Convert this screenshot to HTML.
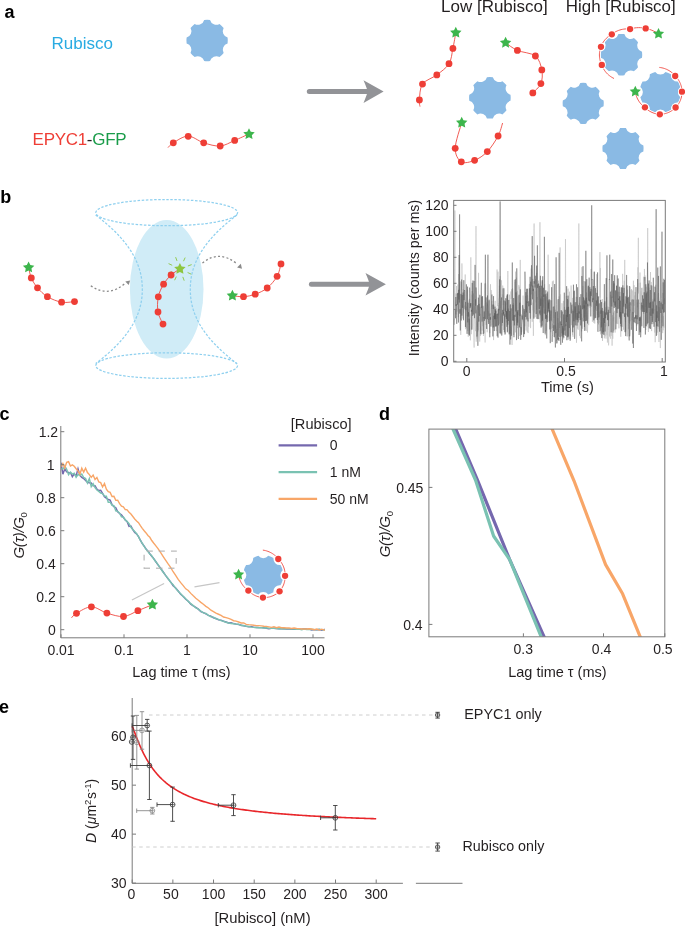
<!DOCTYPE html>
<html><head><meta charset="utf-8"><title>Figure</title>
<style>html,body{margin:0;padding:0;background:#fff;width:685px;height:926px;overflow:hidden}
svg{display:block;font-family:"Liberation Sans",sans-serif;will-change:transform}</style></head>
<body>
<svg width="685" height="926" viewBox="0 0 685 926" font-family="Liberation Sans, sans-serif"><text x="4.5" y="17.5" font-size="18" text-anchor="start" font-weight="bold" fill="#000" >a</text>
<text x="51.6" y="49.3" font-size="17" text-anchor="start" font-weight="normal" fill="#29abe2" >Rubisco</text>
<path d="M204.18 20.01A20.7 20.7 0 0 1 210.02 20.01A6.5 6.5 0 0 0 219.53 23.95A20.7 20.7 0 0 1 223.65 28.07A6.5 6.5 0 0 0 227.59 37.58A20.7 20.7 0 0 1 227.59 43.42A6.5 6.5 0 0 0 223.65 52.93A20.7 20.7 0 0 1 219.53 57.05A6.5 6.5 0 0 0 210.02 60.99A20.7 20.7 0 0 1 204.18 60.99A6.5 6.5 0 0 0 194.67 57.05A20.7 20.7 0 0 1 190.55 52.93A6.5 6.5 0 0 0 186.61 43.42A20.7 20.7 0 0 1 186.61 37.58A6.5 6.5 0 0 0 190.55 28.07A20.7 20.7 0 0 1 194.67 23.95A6.5 6.5 0 0 0 204.18 20.01Z" fill="#8abae4"/>
<text x="32.6" y="144.9" font-size="17" letter-spacing="-0.3"><tspan fill="#ee3e36">EPYC1</tspan><tspan fill="#231f20">-</tspan><tspan fill="#1a9c4a">GFP</tspan></text>
<path d="M168 147.6C168.88 146.8 169.95 144.72 173.3 142.8C176.65 140.88 183.03 136.1 188.1 136.1C193.17 136.1 198.35 141.15 203.7 142.8C209.05 144.45 215.03 146.4 220.2 146C225.37 145.6 229.93 142.4 234.7 140.4C239.47 138.4 246.45 135.07 248.8 134" fill="none" stroke="#ee3e36" stroke-width="0.85"/><circle cx="173.3" cy="142.8" r="3.4" fill="#ee3e36"/><circle cx="188.2" cy="136.3" r="3.4" fill="#ee3e36"/><circle cx="203.7" cy="142.8" r="3.4" fill="#ee3e36"/><circle cx="220.2" cy="146" r="3.4" fill="#ee3e36"/><circle cx="234.7" cy="140.4" r="3.4" fill="#ee3e36"/><polygon points="249,128.2 250.76,131.77 254.71,132.35 251.85,135.13 252.53,139.05 249,137.2 245.47,139.05 246.15,135.13 243.29,132.35 247.24,131.77" fill="#3db54c"/>
<line x1="309.3" y1="91.6" x2="369.5" y2="91.6" stroke="#929397" stroke-width="5" stroke-linecap="round"/><path d="M383.6 91.6 L363.5 80.3 Q367.5 89.6 367.5 91.6 Q367.5 93.6 363.5 102.9 Z" fill="#929397"/>
<text x="441" y="11.9" font-size="17" text-anchor="start" font-weight="normal" fill="#231f20" >Low [Rubisco]</text>
<text x="565.8" y="11.9" font-size="16.9" text-anchor="start" font-weight="normal" fill="#231f20" >High [Rubisco]</text>
<path d="M486.97 77.21A20.8 20.8 0 0 1 492.83 77.21A6.53 6.53 0 0 0 502.39 81.17A20.8 20.8 0 0 1 506.53 85.31A6.53 6.53 0 0 0 510.49 94.87A20.8 20.8 0 0 1 510.49 100.73A6.53 6.53 0 0 0 506.53 110.29A20.8 20.8 0 0 1 502.39 114.43A6.53 6.53 0 0 0 492.83 118.39A20.8 20.8 0 0 1 486.97 118.39A6.53 6.53 0 0 0 477.41 114.43A20.8 20.8 0 0 1 473.27 110.29A6.53 6.53 0 0 0 469.31 100.73A20.8 20.8 0 0 1 469.31 94.87A6.53 6.53 0 0 0 473.27 85.31A20.8 20.8 0 0 1 477.41 81.17A6.53 6.53 0 0 0 486.97 77.21Z" fill="#8abae4"/>
<path d="M420 106.6C419.9 105.48 418.98 103.65 419.4 99.9C419.82 96.15 419.6 88.27 422.5 84.1C425.4 79.93 432.38 78.3 436.8 74.9C441.22 71.5 446.32 68.12 449 63.7C451.68 59.28 451.77 53.57 452.9 48.4C454.03 43.23 455.32 35.32 455.8 32.7" fill="none" stroke="#ee3e36" stroke-width="0.85"/><circle cx="419.4" cy="99.9" r="3.4" fill="#ee3e36"/><circle cx="422.5" cy="84.1" r="3.4" fill="#ee3e36"/><circle cx="436.8" cy="74.9" r="3.4" fill="#ee3e36"/><circle cx="449" cy="63.7" r="3.4" fill="#ee3e36"/><circle cx="452.9" cy="48.4" r="3.4" fill="#ee3e36"/><polygon points="455.8,26.7 457.56,30.27 461.51,30.85 458.65,33.63 459.33,37.55 455.8,35.7 452.27,37.55 452.95,33.63 450.09,30.85 454.04,30.27" fill="#3db54c"/>
<path d="M505.6 42.8C507.57 44.07 512.43 48.2 517.4 50.4C522.37 52.6 531.33 52.75 535.4 56C539.47 59.25 540.88 65.3 541.8 69.9C542.72 74.5 542.4 79.77 540.9 83.6C539.4 87.43 534.15 91.35 532.8 92.9" fill="none" stroke="#ee3e36" stroke-width="0.85"/><circle cx="517.4" cy="50.4" r="3.4" fill="#ee3e36"/><circle cx="535.4" cy="56" r="3.4" fill="#ee3e36"/><circle cx="541.8" cy="69.9" r="3.4" fill="#ee3e36"/><circle cx="540.9" cy="83.6" r="3.4" fill="#ee3e36"/><circle cx="532.8" cy="92.9" r="3.4" fill="#ee3e36"/><polygon points="505.6,36.8 507.36,40.37 511.31,40.95 508.45,43.73 509.13,47.65 505.6,45.8 502.07,47.65 502.75,43.73 499.89,40.95 503.84,40.37" fill="#3db54c"/>
<path d="M461.7 122.7C460.62 126.97 455.27 141.78 455.2 148.3C455.13 154.82 458.07 159.8 461.3 161.8C464.53 163.8 470.27 162 474.6 160.3C478.93 158.6 483.38 155.65 487.3 151.6C491.22 147.55 495.55 140.77 498.1 136C500.65 131.23 501.85 125.17 502.6 123" fill="none" stroke="#ee3e36" stroke-width="0.85"/><circle cx="455.2" cy="148.3" r="3.4" fill="#ee3e36"/><circle cx="461.3" cy="161.8" r="3.4" fill="#ee3e36"/><circle cx="474.6" cy="160.3" r="3.4" fill="#ee3e36"/><circle cx="487.3" cy="151.6" r="3.4" fill="#ee3e36"/><circle cx="498.1" cy="136" r="3.4" fill="#ee3e36"/><polygon points="461.7,116.7 463.46,120.27 467.41,120.85 464.55,123.63 465.23,127.55 461.7,125.7 458.17,127.55 458.85,123.63 455.99,120.85 459.94,120.27" fill="#3db54c"/>
<path d="M580.3 82.91A20.6 20.6 0 0 1 586.1 82.91A6.47 6.47 0 0 0 595.57 86.83A20.6 20.6 0 0 1 599.67 90.93A6.47 6.47 0 0 0 603.59 100.4A20.6 20.6 0 0 1 603.59 106.2A6.47 6.47 0 0 0 599.67 115.67A20.6 20.6 0 0 1 595.57 119.77A6.47 6.47 0 0 0 586.1 123.69A20.6 20.6 0 0 1 580.3 123.69A6.47 6.47 0 0 0 570.83 119.77A20.6 20.6 0 0 1 566.73 115.67A6.47 6.47 0 0 0 562.81 106.2A20.6 20.6 0 0 1 562.81 100.4A6.47 6.47 0 0 0 566.73 90.93A20.6 20.6 0 0 1 570.83 86.83A6.47 6.47 0 0 0 580.3 82.91Z" fill="#8abae4"/>
<path d="M620.1 128.11A20.6 20.6 0 0 1 625.9 128.11A6.47 6.47 0 0 0 635.37 132.03A20.6 20.6 0 0 1 639.47 136.13A6.47 6.47 0 0 0 643.39 145.6A20.6 20.6 0 0 1 643.39 151.4A6.47 6.47 0 0 0 639.47 160.87A20.6 20.6 0 0 1 635.37 164.97A6.47 6.47 0 0 0 625.9 168.89A20.6 20.6 0 0 1 620.1 168.89A6.47 6.47 0 0 0 610.63 164.97A20.6 20.6 0 0 1 606.53 160.87A6.47 6.47 0 0 0 602.61 151.4A20.6 20.6 0 0 1 602.61 145.6A6.47 6.47 0 0 0 606.53 136.13A20.6 20.6 0 0 1 610.63 132.03A6.47 6.47 0 0 0 620.1 128.11Z" fill="#8abae4"/>
<path d="M618.47 34.11A20.8 20.8 0 0 1 624.33 34.11A6.53 6.53 0 0 0 633.89 38.07A20.8 20.8 0 0 1 638.03 42.21A6.53 6.53 0 0 0 641.99 51.77A20.8 20.8 0 0 1 641.99 57.63A6.53 6.53 0 0 0 638.03 67.19A20.8 20.8 0 0 1 633.89 71.33A6.53 6.53 0 0 0 624.33 75.29A20.8 20.8 0 0 1 618.47 75.29A6.53 6.53 0 0 0 608.91 71.33A20.8 20.8 0 0 1 604.77 67.19A6.53 6.53 0 0 0 600.81 57.63A20.8 20.8 0 0 1 600.81 51.77A6.53 6.53 0 0 0 604.77 42.21A20.8 20.8 0 0 1 608.91 38.07A6.53 6.53 0 0 0 618.47 34.11Z" fill="#8abae4"/>
<path d="M614 78.47 L612.83 77.88 L611.7 77.23 L610.62 76.52 L609.58 75.76 L608.59 74.96 L607.66 74.11 L606.78 73.22 L605.95 72.28 L605.18 71.32 L604.47 70.32 L603.82 69.29 L603.23 68.24 L602.7 67.17 L602.24 66.08 L601.83 64.97 L601.33 63.93 L600.89 62.86 L600.5 61.77 L600.17 60.67 L599.9 59.55 L599.69 58.41 L599.54 57.27 L599.44 56.12 L599.41 54.97 L599.44 53.82 L599.53 52.67 L599.68 51.53 L599.88 50.4 L600.15 49.28 L600.48 48.18 L600.86 47.1 L601.26 46.03 L601.7 44.97 L602.2 43.93 L602.76 42.92 L603.37 41.93 L604.03 40.98 L604.74 40.06 L605.5 39.18 L606.3 38.34 L607.16 37.54 L608.05 36.79 L608.98 36.08 L609.95 35.42 L610.96 34.81 L611.98 34.21 L612.95 33.45 L613.97 32.74 L615.04 32.08 L616.17 31.47 L617.34 30.92 L618.55 30.43 L619.8 30 L621.09 29.63 L622.42 29.34 L623.77 29.11 L625.15 28.96 L626.56 28.89 L627.98 28.89 L629.42 28.97 L631 28.74 L632.78 28.28 L634.63 27.94 L636.54 27.72 L638.52 27.63 L640.54 27.67 L642.6 27.86 L644.69 28.19 L646.83 28.64 L648.99 29.24 L651.17 29.99 L653.33 30.9 L655.48 31.97 L657.61 33.2" fill="none" stroke="#fff" stroke-width="2.6"/><path d="M614 78.47 L612.83 77.88 L611.7 77.23 L610.62 76.52 L609.58 75.76 L608.59 74.96 L607.66 74.11 L606.78 73.22 L605.95 72.28 L605.18 71.32 L604.47 70.32 L603.82 69.29 L603.23 68.24 L602.7 67.17 L602.24 66.08 L601.83 64.97 L601.33 63.93 L600.89 62.86 L600.5 61.77 L600.17 60.67 L599.9 59.55 L599.69 58.41 L599.54 57.27 L599.44 56.12 L599.41 54.97 L599.44 53.82 L599.53 52.67 L599.68 51.53 L599.88 50.4 L600.15 49.28 L600.48 48.18 L600.86 47.1 L601.26 46.03 L601.7 44.97 L602.2 43.93 L602.76 42.92 L603.37 41.93 L604.03 40.98 L604.74 40.06 L605.5 39.18 L606.3 38.34 L607.16 37.54 L608.05 36.79 L608.98 36.08 L609.95 35.42 L610.96 34.81 L611.98 34.21 L612.95 33.45 L613.97 32.74 L615.04 32.08 L616.17 31.47 L617.34 30.92 L618.55 30.43 L619.8 30 L621.09 29.63 L622.42 29.34 L623.77 29.11 L625.15 28.96 L626.56 28.89 L627.98 28.89 L629.42 28.97 L631 28.74 L632.78 28.28 L634.63 27.94 L636.54 27.72 L638.52 27.63 L640.54 27.67 L642.6 27.86 L644.69 28.19 L646.83 28.64 L648.99 29.24 L651.17 29.99 L653.33 30.9 L655.48 31.97 L657.61 33.2" fill="none" stroke="#ee3e36" stroke-width="0.85"/><circle cx="601.83" cy="64.97" r="3.95" fill="#fff"/><circle cx="601.83" cy="64.97" r="3.15" fill="#ee3e36"/><circle cx="600.98" cy="46.78" r="3.95" fill="#fff"/><circle cx="600.98" cy="46.78" r="3.15" fill="#ee3e36"/><circle cx="611.82" cy="34.34" r="3.95" fill="#fff"/><circle cx="611.82" cy="34.34" r="3.15" fill="#ee3e36"/><circle cx="630.09" cy="29.03" r="3.95" fill="#fff"/><circle cx="630.09" cy="29.03" r="3.15" fill="#ee3e36"/><circle cx="645.68" cy="28.39" r="3.95" fill="#fff"/><circle cx="645.68" cy="28.39" r="3.15" fill="#ee3e36"/><polygon points="658.51,27.89 660.25,31.4 664.12,31.96 661.32,34.7 661.98,38.56 658.51,36.74 655.05,38.56 655.71,34.7 652.9,31.96 656.78,31.4" fill="#3db54c"/>
<path d="M665.55 72.05A20.7 20.7 0 0 1 670.94 74.28A6.5 6.5 0 0 0 678.22 81.56A20.7 20.7 0 0 1 680.45 86.95A6.5 6.5 0 0 0 680.45 97.25A20.7 20.7 0 0 1 678.22 102.64A6.5 6.5 0 0 0 670.94 109.92A20.7 20.7 0 0 1 665.55 112.15A6.5 6.5 0 0 0 655.25 112.15A20.7 20.7 0 0 1 649.86 109.92A6.5 6.5 0 0 0 642.58 102.64A20.7 20.7 0 0 1 640.35 97.25A6.5 6.5 0 0 0 640.35 86.95A20.7 20.7 0 0 1 642.58 81.56A6.5 6.5 0 0 0 649.86 74.28A20.7 20.7 0 0 1 655.25 72.05A6.5 6.5 0 0 0 665.55 72.05Z" fill="#8abae4"/>
<path d="M659.34 67.42 L660.63 67.58 L661.9 67.82 L663.14 68.12 L664.36 68.48 L665.55 68.91 L666.71 69.39 L667.83 69.94 L668.91 70.53 L669.95 71.18 L670.95 71.88 L671.9 72.63 L672.8 73.41 L673.66 74.24 L674.46 75.11 L675.2 76.01 L676.02 76.83 L676.78 77.68 L677.51 78.58 L678.18 79.51 L678.8 80.48 L679.37 81.47 L679.89 82.5 L680.36 83.54 L680.76 84.62 L681.11 85.71 L681.41 86.81 L681.64 87.93 L681.82 89.06 L681.93 90.2 L681.99 91.34 L682 92.48 L681.95 93.62 L681.84 94.76 L681.67 95.89 L681.44 97 L681.16 98.11 L680.81 99.2 L680.41 100.27 L679.96 101.31 L679.45 102.33 L678.89 103.33 L678.27 104.29 L677.61 105.22 L676.9 106.11 L676.14 106.97 L675.35 107.79 L674.52 108.58 L673.66 109.33 L672.75 110.03 L671.81 110.68 L670.84 111.29 L669.83 111.84 L668.79 112.34 L667.73 112.79 L666.64 113.18 L665.54 113.51 L664.42 113.79 L663.28 114.01 L662.13 114.16 L660.97 114.26 L659.81 114.3 L658.65 114.21 L657.5 114.05 L656.37 113.84 L655.24 113.57 L654.14 113.24 L653.05 112.86 L651.99 112.42 L650.96 111.92 L649.95 111.38 L648.98 110.78 L648.04 110.13 L647.14 109.44 L646.27 108.7 L645.45 107.92 L644.61 107.15 L643.68 106.46 L642.78 105.71 L641.92 104.9 L641.09 104.04 L640.3 103.13 L639.56 102.17 L638.86 101.16 L638.22 100.1 L637.62 99 L637.08 97.86 L636.6 96.69 L636.18 95.48 L635.82 94.23 L635.53 92.96 L635.3 91.67" fill="none" stroke="#fff" stroke-width="2.6"/><path d="M659.34 67.42 L660.63 67.58 L661.9 67.82 L663.14 68.12 L664.36 68.48 L665.55 68.91 L666.71 69.39 L667.83 69.94 L668.91 70.53 L669.95 71.18 L670.95 71.88 L671.9 72.63 L672.8 73.41 L673.66 74.24 L674.46 75.11 L675.2 76.01 L676.02 76.83 L676.78 77.68 L677.51 78.58 L678.18 79.51 L678.8 80.48 L679.37 81.47 L679.89 82.5 L680.36 83.54 L680.76 84.62 L681.11 85.71 L681.41 86.81 L681.64 87.93 L681.82 89.06 L681.93 90.2 L681.99 91.34 L682 92.48 L681.95 93.62 L681.84 94.76 L681.67 95.89 L681.44 97 L681.16 98.11 L680.81 99.2 L680.41 100.27 L679.96 101.31 L679.45 102.33 L678.89 103.33 L678.27 104.29 L677.61 105.22 L676.9 106.11 L676.14 106.97 L675.35 107.79 L674.52 108.58 L673.66 109.33 L672.75 110.03 L671.81 110.68 L670.84 111.29 L669.83 111.84 L668.79 112.34 L667.73 112.79 L666.64 113.18 L665.54 113.51 L664.42 113.79 L663.28 114.01 L662.13 114.16 L660.97 114.26 L659.81 114.3 L658.65 114.21 L657.5 114.05 L656.37 113.84 L655.24 113.57 L654.14 113.24 L653.05 112.86 L651.99 112.42 L650.96 111.92 L649.95 111.38 L648.98 110.78 L648.04 110.13 L647.14 109.44 L646.27 108.7 L645.45 107.92 L644.61 107.15 L643.68 106.46 L642.78 105.71 L641.92 104.9 L641.09 104.04 L640.3 103.13 L639.56 102.17 L638.86 101.16 L638.22 100.1 L637.62 99 L637.08 97.86 L636.6 96.69 L636.18 95.48 L635.82 94.23 L635.53 92.96 L635.3 91.67" fill="none" stroke="#ee3e36" stroke-width="0.85"/><circle cx="675.2" cy="76.01" r="3.95" fill="#fff"/><circle cx="675.2" cy="76.01" r="3.15" fill="#ee3e36"/><circle cx="682" cy="91.72" r="3.95" fill="#fff"/><circle cx="682" cy="91.72" r="3.15" fill="#ee3e36"/><circle cx="675.61" cy="107.51" r="3.95" fill="#fff"/><circle cx="675.61" cy="107.51" r="3.15" fill="#ee3e36"/><circle cx="659.81" cy="114.3" r="3.95" fill="#fff"/><circle cx="659.81" cy="114.3" r="3.15" fill="#ee3e36"/><circle cx="644.93" cy="107.37" r="3.95" fill="#fff"/><circle cx="644.93" cy="107.37" r="3.15" fill="#ee3e36"/><polygon points="635.3,85.77 637.04,89.28 640.92,89.84 638.11,92.58 638.77,96.44 635.3,94.62 631.84,96.44 632.5,92.58 629.69,89.84 633.57,89.28" fill="#3db54c"/>
<text x="0.3" y="202.7" font-size="18" text-anchor="start" font-weight="bold" fill="#000" >b</text>
<ellipse cx="166.7" cy="289.3" rx="36.8" ry="69.3" fill="#d0ecf7"/>
<ellipse cx="166.7" cy="212.6" rx="70.9" ry="13.1" fill="none" stroke="#8fd0ef" stroke-width="1.25" stroke-dasharray="2.5 1.6"/>
<ellipse cx="166.7" cy="365.6" rx="70.9" ry="12.8" fill="none" stroke="#8fd0ef" stroke-width="1.25" stroke-dasharray="2.5 1.6"/>
<path d="M95.65 215.1 L98.1 216.96 L100.48 218.81 L102.79 220.67 L105.03 222.52 L107.2 224.38 L109.3 226.23 L111.34 228.09 L113.3 229.94 L115.2 231.8 L117.03 233.65 L118.79 235.5 L120.48 237.36 L122.11 239.22 L123.67 241.07 L125.16 242.93 L126.59 244.78 L127.95 246.64 L129.24 248.49 L130.48 250.34 L131.64 252.2 L132.75 254.06 L133.79 255.91 L134.76 257.76 L135.67 259.62 L136.53 261.48 L137.31 263.33 L138.04 265.19 L138.71 267.04 L139.32 268.89 L139.87 270.75 L140.35 272.61 L140.79 274.46 L141.16 276.31 L141.48 278.17 L141.74 280.02 L141.95 281.88 L142.11 283.74 L142.22 285.59 L142.28 287.44 L142.3 289.3 L142.28 291.16 L142.22 293.01 L142.11 294.87 L141.95 296.72 L141.74 298.57 L141.48 300.43 L141.16 302.29 L140.79 304.14 L140.35 306 L139.87 307.85 L139.32 309.71 L138.71 311.56 L138.04 313.42 L137.31 315.27 L136.53 317.12 L135.67 318.98 L134.76 320.84 L133.79 322.69 L132.75 324.55 L131.64 326.4 L130.48 328.25 L129.24 330.11 L127.95 331.97 L126.59 333.82 L125.16 335.68 L123.67 337.53 L122.11 339.38 L120.48 341.24 L118.79 343.1 L117.03 344.95 L115.2 346.81 L113.3 348.66 L111.34 350.52 L109.3 352.37 L107.2 354.23 L105.03 356.08 L102.79 357.94 L100.48 359.79 L98.1 361.65 L95.65 363.5" fill="none" stroke="#8fd0ef" stroke-width="1.25" stroke-dasharray="2.5 1.6"/>
<path d="M236.95 215.1 L234.5 216.96 L232.12 218.81 L229.81 220.67 L227.57 222.52 L225.4 224.38 L223.3 226.23 L221.26 228.09 L219.3 229.94 L217.4 231.8 L215.57 233.65 L213.81 235.5 L212.12 237.36 L210.49 239.22 L208.93 241.07 L207.44 242.93 L206.01 244.78 L204.65 246.64 L203.36 248.49 L202.12 250.34 L200.96 252.2 L199.85 254.06 L198.81 255.91 L197.84 257.76 L196.93 259.62 L196.07 261.48 L195.29 263.33 L194.56 265.19 L193.89 267.04 L193.28 268.89 L192.73 270.75 L192.25 272.61 L191.81 274.46 L191.44 276.31 L191.12 278.17 L190.86 280.02 L190.65 281.88 L190.49 283.74 L190.38 285.59 L190.32 287.44 L190.3 289.3 L190.32 291.16 L190.38 293.01 L190.49 294.87 L190.65 296.72 L190.86 298.57 L191.12 300.43 L191.44 302.29 L191.81 304.14 L192.25 306 L192.73 307.85 L193.28 309.71 L193.89 311.56 L194.56 313.42 L195.29 315.27 L196.07 317.12 L196.93 318.98 L197.84 320.84 L198.81 322.69 L199.85 324.55 L200.96 326.4 L202.12 328.25 L203.36 330.11 L204.65 331.97 L206.01 333.82 L207.44 335.68 L208.93 337.53 L210.49 339.38 L212.12 341.24 L213.81 343.1 L215.57 344.95 L217.4 346.81 L219.3 348.66 L221.26 350.52 L223.3 352.37 L225.4 354.23 L227.57 356.08 L229.81 357.94 L232.12 359.79 L234.5 361.65 L236.95 363.5" fill="none" stroke="#8fd0ef" stroke-width="1.25" stroke-dasharray="2.5 1.6"/>
<path d="M28.6 267.5C29.05 269.23 29.82 274.52 31.3 277.9C32.78 281.28 34.82 284.67 37.5 287.8C40.18 290.93 43.38 294.3 47.4 296.7C51.42 299.1 57.08 301.38 61.6 302.2C66.12 303.02 72.35 301.7 74.5 301.6" fill="none" stroke="#ee3e36" stroke-width="0.85"/><circle cx="31.3" cy="277.9" r="3.4" fill="#ee3e36"/><circle cx="37.5" cy="287.8" r="3.4" fill="#ee3e36"/><circle cx="47.4" cy="296.7" r="3.4" fill="#ee3e36"/><circle cx="61.6" cy="302.2" r="3.4" fill="#ee3e36"/><circle cx="74.5" cy="301.6" r="3.4" fill="#ee3e36"/><polygon points="28.6,261.5 30.36,265.07 34.31,265.65 31.45,268.43 32.13,272.35 28.6,270.5 25.07,272.35 25.75,268.43 22.89,265.65 26.84,265.07" fill="#3db54c"/>
<path d="M90.8 285.7 Q108 298 125.2 283.3" fill="none" stroke="#8a8a8a" stroke-width="1.3" stroke-dasharray="2 2.3"/>
<polygon points="130.1,280.4 125.3,281.6 128.7,285" fill="#8a8a8a"/>
<path d="M202.4 263.1 Q219 249.5 236.6 263.6" fill="none" stroke="#8a8a8a" stroke-width="1.3" stroke-dasharray="2 2.3"/>
<polygon points="242,268.8 237.1,267.6 240.8,263.8" fill="#8a8a8a"/>
<line x1="176.99" y1="260.91" x2="175.62" y2="257.15" stroke="#8dc63f" stroke-width="0.9"/><line x1="183.49" y1="261.2" x2="185.18" y2="257.57" stroke="#8dc63f" stroke-width="0.9"/><line x1="187.89" y1="265.99" x2="191.65" y2="264.62" stroke="#8dc63f" stroke-width="0.9"/><line x1="187.6" y1="272.49" x2="191.23" y2="274.18" stroke="#8dc63f" stroke-width="0.9"/><line x1="182.81" y1="276.89" x2="184.18" y2="280.65" stroke="#8dc63f" stroke-width="0.9"/><line x1="176.31" y1="276.6" x2="174.62" y2="280.23" stroke="#8dc63f" stroke-width="0.9"/><line x1="171.91" y1="271.81" x2="168.15" y2="273.18" stroke="#8dc63f" stroke-width="0.9"/><line x1="172.2" y1="265.31" x2="168.57" y2="263.62" stroke="#8dc63f" stroke-width="0.9"/>
<path d="M163 324.1C162.17 322.08 158.78 316.55 158 312C157.22 307.45 157.37 301.43 158.3 296.8C159.23 292.17 161.47 287.83 163.6 284.2C165.73 280.57 168.38 277.55 171.1 275C173.82 272.45 178.43 269.92 179.9 268.9" fill="none" stroke="#ee3e36" stroke-width="0.85"/><circle cx="163" cy="324.1" r="3.4" fill="#ee3e36"/><circle cx="158" cy="312" r="3.4" fill="#ee3e36"/><circle cx="158.3" cy="296.8" r="3.4" fill="#ee3e36"/><circle cx="163.6" cy="284.2" r="3.4" fill="#ee3e36"/><circle cx="171.1" cy="275" r="3.4" fill="#ee3e36"/><polygon points="179.9,262.9 181.66,266.47 185.61,267.05 182.75,269.83 183.43,273.75 179.9,271.9 176.37,273.75 177.05,269.83 174.19,267.05 178.14,266.47" fill="#8dc63f"/>
<path d="M232.4 295.7C234.25 295.87 239.7 296.95 243.5 296.7C247.3 296.45 251.25 295.65 255.2 294.2C259.15 292.75 263.55 290.98 267.2 288C270.85 285.02 274.8 280.32 277.1 276.3C279.4 272.28 280.35 265.97 281 263.9" fill="none" stroke="#ee3e36" stroke-width="0.85"/><circle cx="243.5" cy="296.7" r="3.4" fill="#ee3e36"/><circle cx="255.2" cy="294.2" r="3.4" fill="#ee3e36"/><circle cx="267.2" cy="288" r="3.4" fill="#ee3e36"/><circle cx="277.1" cy="276.3" r="3.4" fill="#ee3e36"/><circle cx="281" cy="263.9" r="3.4" fill="#ee3e36"/><polygon points="232.4,289.7 234.16,293.27 238.11,293.85 235.25,296.63 235.93,300.55 232.4,298.7 228.87,300.55 229.55,296.63 226.69,293.85 230.64,293.27" fill="#3db54c"/>
<line x1="311.4" y1="284.2" x2="371.5" y2="284.2" stroke="#929397" stroke-width="5" stroke-linecap="round"/><path d="M385.9 284.2 L365.5 272.9 Q369.5 282.2 369.5 284.2 Q369.5 286.2 365.5 295.5 Z" fill="#929397"/>
<polyline points="454.2,307.9 454.43,302.97 454.67,282.86 454.9,210.5 455.14,310.33 455.37,301.73 455.61,306.18 455.84,293.42 456.07,314.51 456.31,298.96 456.54,286.03 456.78,295.07 457.01,311.62 457.25,307.65 457.48,295.2 457.71,289.8 457.95,284.47 458.18,299.93 458.42,317.12 458.65,274.06 458.89,291.66 459.12,289.13 459.35,291.61 459.59,312.61 459.82,302.27 460.06,292.48 460.29,281.32 460.53,296.51 460.76,334.9 460.99,302 461.23,294.49 461.46,282.01 461.7,289.9 461.93,263.41 462.16,280.19 462.4,281.8 462.63,288.17 462.87,318.52 463.1,289.26 463.34,293.57 463.57,313.28 463.8,294.52 464.04,298.25 464.27,309.32 464.51,305.53 464.74,308.62 464.98,302.21 465.21,274.46 465.44,296.25 465.68,329.18 465.91,309.86 466.15,328.04 466.38,322.06 466.62,306.58 466.85,314 467.08,316 467.32,312.01 467.55,289.76 467.79,331.08 468.02,300.33 468.26,336.75 468.49,320.79 468.72,309.05 468.96,325.1 469.19,308.89 469.43,298.86 469.66,330.41 469.9,313.57 470.13,319.99 470.36,340.32 470.6,318.54 470.83,257.3 471.07,296.13 471.3,334.2 471.54,294.64 471.77,329.73 472,290.97 472.24,310.62 472.47,311.74 472.71,304.99 472.94,303.88 473.18,298.69 473.41,293.44 473.64,326.29 473.88,337.59 474.11,347.58 474.35,324.59 474.58,306.18 474.81,314.12 475.05,317.9 475.28,325.85 475.52,331.15 475.75,325.88 475.99,226.1 476.22,341.66 476.45,309.83 476.69,338.55 476.92,320.99 477.16,327.08 477.39,322.3 477.63,331.76 477.86,331.6 478.09,316.73 478.33,330.31 478.56,272.82 478.8,316.53 479.03,320.16 479.27,319.94 479.5,327.25 479.73,341.64 479.97,313.99 480.2,306.92 480.44,336.03 480.67,313.91 480.91,334.43 481.14,316.42 481.37,310.07 481.61,308.88 481.84,311.81 482.08,330.66 482.31,305.89 482.55,326.21 482.78,312.31 483.01,306.59 483.25,321.27 483.48,336 483.72,305.82 483.95,333.22 484.19,330.15 484.42,333.25 484.65,283.48 484.89,320.49 485.12,342.5 485.36,304.32 485.59,283.3 485.83,287.56 486.06,324.93 486.29,315.13 486.53,307.82 486.76,302.35 487,316.45 487.23,332.26 487.46,303.68 487.7,306.74 487.93,312.89 488.17,322.32 488.4,311.32 488.64,315.81 488.87,308.37 489.1,301.01 489.34,305.05 489.57,314.99 489.81,333.13 490.04,303.85 490.28,291.82 490.51,284.25 490.74,314.41 490.98,314.4 491.21,290.07 491.45,291.63 491.68,308.97 491.92,300.8 492.15,325.24 492.38,305.11 492.62,327.37 492.85,316.6 493.09,315.99 493.32,320.37 493.56,340.08 493.79,326.48 494.02,305.03 494.26,310.28 494.49,319.25 494.73,307.26 494.96,303.39 495.2,300.84 495.43,326.27 495.66,311.41 495.9,316.08 496.13,321.62 496.37,331.1 496.6,308.26 496.84,319.27 497.07,269.47 497.3,302.63 497.54,303.9 497.77,306.03 498.01,271.66 498.24,315.48 498.48,304.75 498.71,314.33 498.94,302.98 499.18,303.98 499.41,285.61 499.65,323.81 499.88,302.33 500.12,276.23 500.35,308.12 500.58,301.19 500.82,314.09 501.05,334.55 501.29,300.92 501.52,280.31 501.75,305.77 501.99,325.61 502.22,294.21 502.46,299.83 502.69,285.55 502.93,287.83 503.16,305.08 503.39,295.4 503.63,329.96 503.86,287.92 504.1,301.52 504.33,288.48 504.57,289.71 504.8,310.79 505.03,308.36 505.27,320.86 505.5,333.59 505.74,308.24 505.97,303.48 506.21,322.41 506.44,296.1 506.67,304.62 506.91,298.33 507.14,317.25 507.38,331.48 507.61,291.58 507.85,271 508.08,305.98 508.31,311.35 508.55,308.89 508.78,308.03 509.02,314.94 509.25,335.08 509.49,294.65 509.72,332.55 509.95,314.47 510.19,315.16 510.42,305.15 510.66,333.77 510.89,291.5 511.13,299.16 511.36,296.94 511.59,289.22 511.83,320.8 512.06,344.94 512.3,303.19 512.53,288.41 512.77,290.16 513,296.77 513.23,310.81 513.47,302.95 513.7,335.02 513.94,317.9 514.17,316.34 514.4,279.89 514.64,314.03 514.87,282.03 515.11,305.33 515.34,332.38 515.58,271.62 515.81,320.74 516.04,294.26 516.28,277.59 516.51,312.99 516.75,325.06 516.98,290.91 517.22,306.57 517.45,327.99 517.68,328.15 517.92,316.76 518.15,296.3 518.39,315.13 518.62,298.51 518.86,284.95 519.09,289.44 519.32,286.74 519.56,290.54 519.79,336.03 520.03,295.45 520.26,259.9 520.5,312.29 520.73,327.12 520.96,315.57 521.2,329.39 521.43,314.32 521.67,332.25 521.9,328.86 522.14,326.22 522.37,305.96 522.6,320.26 522.84,317.79 523.07,295.59 523.31,321.52 523.54,307.77 523.78,333.88 524.01,312.41 524.24,313.91 524.48,310.92 524.71,319.98 524.95,326.35 525.18,315.15 525.42,319.73 525.65,295.93 525.88,299.51 526.12,330.5 526.35,301.42 526.59,316.16 526.82,301.23 527.05,318.28 527.29,332.31 527.52,295.3 527.76,305.68 527.99,329.87 528.23,333.07 528.46,317.78 528.69,326.75 528.93,313.29 529.16,297.26 529.4,283.9 529.63,310.01 529.87,284.31 530.1,286.77 530.33,310.7 530.57,328.14 530.8,290.33 531.04,294.37 531.27,268.55 531.51,283.31 531.74,294.3 531.97,279.01 532.21,321.82 532.44,302.66 532.68,310.12 532.91,278.86 533.15,297.73 533.38,335.84 533.61,282.59 533.85,317.71 534.08,223.5 534.32,312.62 534.55,298.95 534.79,291.44 535.02,298.3 535.25,317.19 535.49,279.13 535.72,295.88 535.96,302.45 536.19,291.13 536.43,309.73 536.66,272.86 536.89,299.46 537.13,296.89 537.36,297.42 537.6,316.54 537.83,319.34 538.07,299.25 538.3,296.67 538.53,280.64 538.77,294.05 539,319.17 539.24,293.59 539.47,289.78 539.71,286.98 539.94,222.2 540.17,322.61 540.41,288.2 540.64,317.66 540.88,296.8 541.11,326.3 541.34,295.97 541.58,321.75 541.81,293.91 542.05,281.39 542.28,290.87 542.52,325.26 542.75,323.15 542.98,322.19 543.22,298.36 543.45,304.58 543.69,307.4 543.92,303.7 544.16,300.02 544.39,300.23 544.62,284.31 544.86,314 545.09,309.59 545.33,335.14 545.56,331.89 545.8,323.55 546.03,330.71 546.26,309.62 546.5,296.44 546.73,319.72 546.97,318.54 547.2,319.25 547.44,310.02 547.67,318.17 547.9,303.2 548.14,254.7 548.37,306.52 548.61,300.84 548.84,311.65 549.08,309.31 549.31,284.19 549.54,313.6 549.78,301.07 550.01,313.63 550.25,324.04 550.48,325.56 550.72,332.23 550.95,320.66 551.18,328.88 551.42,327.03 551.65,300.36 551.89,322.15 552.12,303.11 552.36,281.35 552.59,306.18 552.82,328 553.06,317.07 553.29,280.58 553.53,307.53 553.76,306.43 553.99,317.96 554.23,306.41 554.46,337.52 554.7,335.59 554.93,315.12 555.17,309.67 555.4,328.72 555.63,325.5 555.87,328.1 556.1,327.77 556.34,338.3 556.57,341.04 556.81,329.04 557.04,343.11 557.27,336.85 557.51,333.55 557.74,337.05 557.98,318.01 558.21,329.91 558.45,323.05 558.68,335.8 558.91,332.85 559.15,296.3 559.38,315.61 559.62,327.96 559.85,315.32 560.09,247.39 560.32,317.59 560.55,294.34 560.79,325.15 561.02,312.72 561.26,310.5 561.49,319.65 561.73,333.18 561.96,303.23 562.19,309.08 562.43,310.98 562.66,313.27 562.9,315.37 563.13,328.84 563.37,300.87 563.6,339.39 563.83,317.53 564.07,337.89 564.3,324.31 564.54,306.95 564.77,321.97 565.01,326.77 565.24,310.78 565.47,239.1 565.71,292.37 565.94,324.36 566.18,295.95 566.41,309.65 566.64,312.84 566.88,336.5 567.11,308.87 567.35,336.8 567.58,309.78 567.82,335.5 568.05,288.62 568.28,339.83 568.52,300.15 568.75,303.92 568.99,339.1 569.22,318.79 569.46,291.67 569.69,298.59 569.92,339.31 570.16,328.43 570.39,336.31 570.63,332.61 570.86,326.44 571.1,285.48 571.33,311.86 571.56,320.49 571.8,325.17 572.03,309.62 572.27,309.11 572.5,335.17 572.74,297.92 572.97,336.84 573.2,325.45 573.44,314 573.67,291.25 573.91,327.21 574.14,316.6 574.38,302.22 574.61,312.49 574.84,305.81 575.08,306.98 575.31,317.64 575.55,311.48 575.78,307.95 576.02,321.66 576.25,296.78 576.48,342.75 576.72,334.8 576.95,297.16 577.19,313.22 577.42,328.64 577.66,314.44 577.89,304.24 578.12,329.8 578.36,307.9 578.59,320.96 578.83,223.5 579.06,319.78 579.29,302.62 579.53,335.85 579.76,324.7 580,308.77 580.23,335.59 580.47,338.26 580.7,310.01 580.93,317.38 581.17,319.74 581.4,313.91 581.64,331.34 581.87,267.1 582.11,327.84 582.34,317.77 582.57,328.95 582.81,313.46 583.04,285.95 583.28,308.18 583.51,300.51 583.75,317.65 583.98,281.02 584.21,307.14 584.45,330.99 584.68,298.6 584.92,317.06 585.15,300.77 585.39,307.08 585.62,306.65 585.85,308.13 586.09,323.6 586.32,330.98 586.56,292.42 586.79,309.25 587.03,304.71 587.26,315.68 587.49,332.49 587.73,326.91 587.96,286.27 588.2,319.46 588.43,287.61 588.67,325.11 588.9,310.68 589.13,306.79 589.37,304.56 589.6,299.23 589.84,307.6 590.07,304.33 590.31,298.2 590.54,291.66 590.77,298.64 591.01,268.99 591.24,294.27 591.48,294.85 591.71,306.73 591.95,281.08 592.18,313.87 592.41,321.75 592.65,314.48 592.88,289.35 593.12,316.42 593.35,279.65 593.58,301.24 593.82,322.81 594.05,304.19 594.29,270.98 594.52,316.9 594.76,323.57 594.99,296.84 595.22,286.06 595.46,290.92 595.69,309.53 595.93,301.68 596.16,300.49 596.4,288.75 596.63,274.24 596.86,311 597.1,289.88 597.33,315.24 597.57,299 597.8,323.07 598.04,321.83 598.27,301.54 598.5,324.37 598.74,296.23 598.97,319.56 599.21,311.37 599.44,312.92 599.68,316.79 599.91,252.1 600.14,297.57 600.38,267.99 600.61,334.34 600.85,313.98 601.08,321.38 601.32,333.24 601.55,315.61 601.78,331.95 602.02,318.64 602.25,299.03 602.49,340.99 602.72,312.81 602.96,309.68 603.19,334.41 603.42,311.95 603.66,312.7 603.89,325.14 604.13,302.97 604.36,338.3 604.6,309.92 604.83,324.84 605.06,336.19 605.3,324.65 605.53,326.79 605.77,307.33 606,338.58 606.23,322.84 606.47,326.28 606.7,297.19 606.94,335.21 607.17,306.54 607.41,342.56 607.64,321.61 607.87,329.74 608.11,321.03 608.34,336.77 608.58,345.37 608.81,342.4 609.05,307.05 609.28,323.45 609.51,336.4 609.75,312.17 609.98,336.86 610.22,336.56 610.45,338.68 610.69,306.05 610.92,294.81 611.15,335.86 611.39,307.88 611.62,308.56 611.86,290.53 612.09,345.66 612.33,322.96 612.56,315.21 612.79,338.76 613.03,318.23 613.26,320.89 613.5,312.57 613.73,330.89 613.97,316.76 614.2,329.99 614.43,310.76 614.67,317.63 614.9,323.96 615.14,332.56 615.37,290.41 615.61,299.1 615.84,301.61 616.07,323.44 616.31,317.88 616.54,285.76 616.78,300.72 617.01,323.83 617.25,308.47 617.48,308.94 617.71,313.31 617.95,324.15 618.18,291.75 618.42,301.34 618.65,314.96 618.88,328.36 619.12,321.01 619.35,310.95 619.59,296.51 619.82,315.5 620.06,291.9 620.29,307.2 620.52,320.87 620.76,336.74 620.99,325.33 621.23,327.42 621.46,311.81 621.7,304.03 621.93,287.23 622.16,310.92 622.4,326.83 622.63,273.82 622.87,305.37 623.1,313.18 623.34,313.24 623.57,329.79 623.8,299.58 624.04,304.42 624.27,280.77 624.51,293.54 624.74,259.9 624.98,293.15 625.21,319.18 625.44,322.18 625.68,315.49 625.91,331.59 626.15,313.09 626.38,315.04 626.62,297.22 626.85,309.18 627.08,336.55 627.32,308.7 627.55,289.64 627.79,336.19 628.02,319.06 628.26,309.29 628.49,329.2 628.72,314.79 628.96,303.39 629.19,323.71 629.43,297.45 629.66,295.35 629.9,321.26 630.13,286.55 630.36,286.76 630.6,304.73 630.83,294.96 631.07,290.22 631.3,305.49 631.54,289 631.77,297.99 632,320.21 632.24,296.38 632.47,290.56 632.71,291.39 632.94,313.51 633.17,295.06 633.41,280.73 633.64,299.04 633.88,286.65 634.11,285.34 634.35,305.83 634.58,295.35 634.81,312.57 635.05,291.96 635.28,311.18 635.52,318.02 635.75,308.05 635.99,307.53 636.22,301.37 636.45,299.72 636.69,325.68 636.92,318.24 637.16,302.92 637.39,302.51 637.63,307.28 637.86,267.32 638.09,291.33 638.33,237.8 638.56,293.5 638.8,283.09 639.03,297.77 639.27,330.34 639.5,302.8 639.73,303.96 639.97,272.5 640.2,332.9 640.44,282.66 640.67,310.17 640.91,291.58 641.14,308.91 641.37,301.74 641.61,288.01 641.84,303.38 642.08,287.66 642.31,305.15 642.55,307.61 642.78,304.74 643.01,309.2 643.25,300.22 643.48,276.81 643.72,313.92 643.95,308.73 644.19,295.78 644.42,268.95 644.65,280.43 644.89,276.29 645.12,275.59 645.36,306.95 645.59,294.68 645.82,330 646.06,306.1 646.29,286.75 646.53,321.71 646.76,326.81 647,318.52 647.23,295.03 647.46,280.18 647.7,228.11 647.93,279.36 648.17,326.62 648.4,332.04 648.64,301.64 648.87,287.68 649.1,329.1 649.34,318.12 649.57,318.27 649.81,312.25 650.04,315.19 650.28,304.41 650.51,272 650.74,295.11 650.98,301.94 651.21,281.96 651.45,329.23 651.68,331.14 651.92,305.83 652.15,285.67 652.38,313.38 652.62,299.26 652.85,319.87 653.09,300.19 653.32,323.75 653.56,304.87 653.79,310.93 654.02,309.91 654.26,298.54 654.49,307.71 654.73,332.55 654.96,309.11 655.2,342.21 655.43,311.41 655.66,284.71 655.9,318.33 656.13,319.97 656.37,327.63 656.6,314.82 656.84,335.01 657.07,317.18 657.3,331.09 657.54,332.54 657.77,324 658.01,328.84 658.24,298.62 658.47,292.97 658.71,322.52 658.94,342.01 659.18,306.94 659.41,323.33 659.65,317.52 659.88,308.39 660.11,332.61 660.35,348.06 660.58,318.49 660.82,313.43 661.05,301.59 661.29,327.99 661.52,319.21 661.75,310.83 661.99,322.68 662.22,322.28 662.46,313.53 662.69,333.15 662.93,292.92 663.16,330.27 663.39,316 663.63,321.6 663.86,327.7 664.1,309.22 664.33,302.58 664.57,298.25 664.8,312.52" fill="none" stroke="#b8b8b8" stroke-width="0.5"/>
<polyline points="454.2,324.8 454.43,318.78 454.67,318.84 454.9,318.57 455.14,310.12 455.37,318.13 455.61,308.38 455.84,297.01 456.07,305.86 456.31,304.15 456.54,321.28 456.78,323.86 457.01,312 457.25,293.76 457.48,304.72 457.71,292.91 457.95,294.34 458.18,293.38 458.42,322.51 458.65,289.89 458.89,299.55 459.12,255.04 459.35,302.59 459.59,214.4 459.82,313.78 460.06,309.13 460.29,330.47 460.53,314.57 460.76,310.08 460.99,293.93 461.23,320.53 461.46,305.97 461.7,279.57 461.93,315.69 462.16,294.96 462.4,304.57 462.63,307.92 462.87,298.33 463.1,292.55 463.34,312.95 463.57,320.26 463.8,280.19 464.04,300.11 464.27,291.3 464.51,290.06 464.74,291.37 464.98,307.41 465.21,307.48 465.44,326.95 465.68,301.9 465.91,310.17 466.15,303.74 466.38,284.32 466.62,302.27 466.85,312.2 467.08,333.85 467.32,300.16 467.55,286.61 467.79,322.38 468.02,302.73 468.26,316.64 468.49,312.19 468.72,315.82 468.96,334.57 469.19,318.68 469.43,335.6 469.66,287.57 469.9,293.51 470.13,308.12 470.36,303.38 470.6,306.52 470.83,303.09 471.07,304.43 471.3,311.69 471.54,309.88 471.77,329.59 472,326.1 472.24,282.91 472.47,306.52 472.71,315.87 472.94,280.54 473.18,312.39 473.41,314.52 473.64,302.4 473.88,293.1 474.11,280.91 474.35,294.81 474.58,318.15 474.81,312.03 475.05,264.88 475.28,305.74 475.52,299.25 475.75,313.4 475.99,287.45 476.22,290.15 476.45,295.05 476.69,310.59 476.92,336.52 477.16,334.54 477.39,310.04 477.63,305.23 477.86,345.81 478.09,322.38 478.33,297.63 478.56,299.47 478.8,321.64 479.03,303.88 479.27,312.27 479.5,315.84 479.73,294.83 479.97,295.64 480.2,320.23 480.44,325.81 480.67,331.64 480.91,334.18 481.14,290.93 481.37,282.78 481.61,308.33 481.84,296.64 482.08,321.55 482.31,311.07 482.55,296.19 482.78,305.13 483.01,310.04 483.25,333.94 483.48,332.03 483.72,317.39 483.95,318.21 484.19,311.46 484.42,320.78 484.65,312.93 484.89,309.74 485.12,302.29 485.36,254.7 485.59,319.15 485.83,314.86 486.06,297.41 486.29,314.89 486.53,328.13 486.76,328.97 487,309.31 487.23,306.59 487.46,295.49 487.7,318.99 487.93,254.71 488.17,319.95 488.4,319.42 488.64,324.04 488.87,306.97 489.1,299.71 489.34,316.52 489.57,324.55 489.81,337.23 490.04,313.47 490.28,319.75 490.51,317.2 490.74,323.5 490.98,326.62 491.21,320.1 491.45,307.57 491.68,300.86 491.92,294.53 492.15,311.39 492.38,319.37 492.62,319.32 492.85,336.39 493.09,304.42 493.32,309.08 493.56,296.15 493.79,327.32 494.02,315.63 494.26,331.04 494.49,313.2 494.73,318.79 494.96,306.61 495.2,319.28 495.43,309.23 495.66,326.54 495.9,310.73 496.13,325.1 496.37,326.35 496.6,319.69 496.84,314.11 497.07,335.55 497.3,336.31 497.54,313.62 497.77,315.81 498.01,337.65 498.24,309.43 498.48,325.43 498.71,308.74 498.94,310.22 499.18,299.22 499.41,297.1 499.65,279.39 499.88,333.31 500.12,201.4 500.35,299.86 500.58,332.17 500.82,333.51 501.05,314.35 501.29,300.14 501.52,297.48 501.75,335.59 501.99,331.83 502.22,312.86 502.46,322.91 502.69,309.86 502.93,312.88 503.16,288.41 503.39,315.58 503.63,312.17 503.86,314.02 504.1,300.5 504.33,332.27 504.57,314.23 504.8,330.53 505.03,334.57 505.27,301.33 505.5,311.5 505.74,298.22 505.97,316.8 506.21,311.12 506.44,318.93 506.67,311.19 506.91,326.8 507.14,294.65 507.38,332.31 507.61,294.35 507.85,324.7 508.08,309.58 508.31,321.01 508.55,315.31 508.78,299.91 509.02,319.74 509.25,333.88 509.49,316.87 509.72,311.06 509.95,344.62 510.19,306.78 510.42,304.29 510.66,339.49 510.89,322.92 511.13,308.39 511.36,335.79 511.59,327.91 511.83,325.28 512.06,312.37 512.3,262.5 512.53,320.51 512.77,318.09 513,304.76 513.23,310.83 513.47,320.74 513.7,298.02 513.94,337.22 514.17,315.22 514.4,324.2 514.64,325.38 514.87,314.54 515.11,316.76 515.34,279.33 515.58,306.85 515.81,311.44 516.04,292.36 516.28,302.63 516.51,340.11 516.75,268.34 516.98,289.26 517.22,325.5 517.45,311.61 517.68,322.64 517.92,310.09 518.15,337.51 518.39,338.96 518.62,321.16 518.86,311.12 519.09,294.75 519.32,318.99 519.56,327.42 519.79,302.66 520.03,316.1 520.26,289.33 520.5,317.21 520.73,339.84 520.96,327.06 521.2,328.69 521.43,334.78 521.67,324.14 521.9,322.09 522.14,315.55 522.37,319.46 522.6,304.94 522.84,305.38 523.07,308.42 523.31,308.73 523.54,337.07 523.78,336.08 524.01,326.89 524.24,309.13 524.48,334.16 524.71,318.95 524.95,271.69 525.18,280.66 525.42,305.28 525.65,316.99 525.88,292.16 526.12,304.98 526.35,312.39 526.59,288.79 526.82,319.45 527.05,301.79 527.29,302.81 527.52,288.78 527.76,319.53 527.99,321.45 528.23,307.33 528.46,306.37 528.69,301.28 528.93,306.17 529.16,293.13 529.4,288.37 529.63,294.82 529.87,313.08 530.1,276.79 530.33,318.7 530.57,297.75 530.8,281.63 531.04,305.11 531.27,275.04 531.51,265.23 531.74,268.86 531.97,286.38 532.21,236.12 532.44,299.26 532.68,285.72 532.91,285.59 533.15,291.01 533.38,288.89 533.61,292.78 533.85,318.71 534.08,281.12 534.32,283.67 534.55,255.82 534.79,276.65 535.02,287.51 535.25,275.76 535.49,280.01 535.72,289.02 535.96,296.47 536.19,314.11 536.43,288.83 536.66,265.55 536.89,318.72 537.13,304.84 537.36,245.32 537.6,287.83 537.83,284.32 538.07,319.01 538.3,300.78 538.53,283.64 538.77,283.67 539,289.7 539.24,308.95 539.47,285.84 539.71,313.59 539.94,310.49 540.17,315.28 540.41,275.8 540.64,305.82 540.88,298.69 541.11,327.61 541.34,285.74 541.58,296.34 541.81,326.08 542.05,326.47 542.28,280.1 542.52,320.71 542.75,276.26 542.98,311.73 543.22,333.05 543.45,287.73 543.69,296.89 543.92,294.57 544.16,313.49 544.39,236.8 544.62,292.16 544.86,321.29 545.09,333.59 545.33,294.33 545.56,318.81 545.8,290.31 546.03,318.59 546.26,318.31 546.5,315.09 546.73,338.48 546.97,293.48 547.2,322.11 547.44,317.43 547.67,291.59 547.9,312.6 548.14,300.34 548.37,308.72 548.61,302.55 548.84,311.32 549.08,299.25 549.31,321.35 549.54,310.07 549.78,329.41 550.01,299.84 550.25,343.16 550.48,316.76 550.72,313.47 550.95,310.53 551.18,320.64 551.42,299.52 551.65,287.2 551.89,330.34 552.12,341.88 552.36,336.66 552.59,334.82 552.82,323.59 553.06,323.44 553.29,306.67 553.53,330.93 553.76,325.86 553.99,325.13 554.23,336.95 554.46,330.66 554.7,284.05 554.93,328.71 555.17,338.78 555.4,347.49 555.63,312.18 555.87,333.15 556.1,257.3 556.34,289.65 556.57,304.51 556.81,343.45 557.04,332.43 557.27,311.39 557.51,313.87 557.74,339.75 557.98,300.24 558.21,299.19 558.45,339.49 558.68,337.85 558.91,340.9 559.15,252.87 559.38,311.16 559.62,325.93 559.85,337.07 560.09,331.22 560.32,321.46 560.55,341.94 560.79,344.83 561.02,329.96 561.26,310.21 561.49,325.08 561.73,324.32 561.96,336.41 562.19,311.62 562.43,342.73 562.66,326.17 562.9,334.59 563.13,328.42 563.37,337.54 563.6,314.44 563.83,326.69 564.07,334.86 564.3,292.67 564.54,324.67 564.77,330.44 565.01,329.85 565.24,309.8 565.47,335.7 565.71,324.54 565.94,325.65 566.18,314.84 566.41,321.99 566.64,286.18 566.88,340.24 567.11,307.4 567.35,316.96 567.58,299.08 567.82,337.37 568.05,295.66 568.28,336.53 568.52,306.84 568.75,309.1 568.99,316.99 569.22,327.86 569.46,328.06 569.69,314.08 569.92,327.68 570.16,340.72 570.39,339.08 570.63,302.58 570.86,302.65 571.1,306.61 571.33,313.4 571.56,307.91 571.8,305.06 572.03,304.72 572.27,324.96 572.5,325.75 572.74,332.19 572.97,310.72 573.2,327.46 573.44,284.71 573.67,294.01 573.91,321.22 574.14,300.82 574.38,290.74 574.61,338.86 574.84,335.69 575.08,306.51 575.31,325.35 575.55,305.15 575.78,302.16 576.02,319.73 576.25,299.18 576.48,284.24 576.72,296.86 576.95,325.56 577.19,313.1 577.42,319.99 577.66,287.29 577.89,314.82 578.12,322.43 578.36,311.14 578.59,305.23 578.83,318.06 579.06,311.35 579.29,313.62 579.53,302.58 579.76,297.06 580,309.29 580.23,319.96 580.47,305.45 580.7,325.43 580.93,294.15 581.17,305.72 581.4,307.16 581.64,341.39 581.87,275.96 582.11,288.86 582.34,292.65 582.57,309.22 582.81,300.31 583.04,266.16 583.28,321.36 583.51,297.4 583.75,300.34 583.98,308.47 584.21,305.3 584.45,326.86 584.68,300.45 584.92,330.72 585.15,281.44 585.39,297.08 585.62,321.05 585.85,250.8 586.09,304.13 586.32,297.64 586.56,320.71 586.79,279.21 587.03,299.52 587.26,309.91 587.49,323.51 587.73,303.73 587.96,306.37 588.2,292.44 588.43,285.73 588.67,300.64 588.9,292.19 589.13,277.64 589.37,289.09 589.6,301.44 589.84,287.14 590.07,305.71 590.31,291.47 590.54,298.21 590.77,316.45 591.01,288.88 591.24,295.86 591.48,285.88 591.71,205.3 591.95,280.34 592.18,279.21 592.41,302.17 592.65,299.25 592.88,298.33 593.12,299.87 593.35,286.07 593.58,312.54 593.82,320.31 594.05,305.09 594.29,272.02 594.52,308.3 594.76,318.4 594.99,318.03 595.22,302.76 595.46,288.16 595.69,317.83 595.93,303.63 596.16,303.36 596.4,300.53 596.63,305.9 596.86,292.82 597.1,299.1 597.33,319.93 597.57,272.4 597.8,331.2 598.04,331.82 598.27,296.54 598.5,309.56 598.74,317.43 598.97,311.31 599.21,303.41 599.44,320.35 599.68,323.44 599.91,331.3 600.14,330.13 600.38,330.2 600.61,299.86 600.85,313.89 601.08,310.33 601.32,327.41 601.55,302.1 601.78,338.09 602.02,310.18 602.25,307.96 602.49,327.77 602.72,333.72 602.96,310.96 603.19,330.26 603.42,332.05 603.66,318.01 603.89,334.86 604.13,318.99 604.36,284.17 604.6,323.02 604.83,301.35 605.06,331.53 605.3,312.48 605.53,318.26 605.77,315.83 606,301.22 606.23,278.11 606.47,314.68 606.7,291.69 606.94,255.34 607.17,298.93 607.41,317.76 607.64,319.92 607.87,312.27 608.11,320.63 608.34,309.84 608.58,326.19 608.81,308.68 609.05,305.58 609.28,279.22 609.51,279.87 609.75,254.7 609.98,312.91 610.22,294.99 610.45,291.64 610.69,307.54 610.92,317.79 611.15,332.32 611.39,305.22 611.62,274.09 611.86,306.56 612.09,296.87 612.33,297.44 612.56,295.31 612.79,259.48 613.03,332.58 613.26,305.11 613.5,281.08 613.73,302.37 613.97,283.45 614.2,308.04 614.43,288.85 614.67,275.2 614.9,305.45 615.14,301.52 615.37,307.06 615.61,290.5 615.84,329.32 616.07,322.24 616.31,304.42 616.54,285.71 616.78,290.11 617.01,313.09 617.25,275.34 617.48,297.84 617.71,308.81 617.95,290.38 618.18,278.54 618.42,300.06 618.65,298.56 618.88,308.75 619.12,299.43 619.35,286.74 619.59,316.93 619.82,296.25 620.06,318.55 620.29,300.71 620.52,323.84 620.76,311.97 620.99,326.31 621.23,287.41 621.46,328.12 621.7,331.17 621.93,289.63 622.16,287.87 622.4,299.29 622.63,313.33 622.87,285.37 623.1,313.43 623.34,304.01 623.57,293.11 623.8,306.67 624.04,287.82 624.27,315.19 624.51,316.82 624.74,313.35 624.98,332.05 625.21,332.25 625.44,303.81 625.68,336.09 625.91,296.29 626.15,308.67 626.38,294.26 626.62,274.95 626.85,303.48 627.08,285.43 627.32,315.05 627.55,316.37 627.79,297.87 628.02,317.15 628.26,296.89 628.49,304.66 628.72,323.39 628.96,334.58 629.19,340.48 629.43,285.98 629.66,336.36 629.9,333.74 630.13,302.26 630.36,308.18 630.6,311.75 630.83,313.67 631.07,322.29 631.3,329.8 631.54,326.39 631.77,306.12 632,300.58 632.24,299.48 632.47,318.45 632.71,343.53 632.94,312.17 633.17,322.7 633.41,348 633.64,299.47 633.88,317.23 634.11,322.17 634.35,317.35 634.58,318.35 634.81,317.67 635.05,322.5 635.28,323.19 635.52,315.35 635.75,318.69 635.99,287.13 636.22,321.99 636.45,330.94 636.69,316.51 636.92,315.22 637.16,319.24 637.39,317.71 637.63,279.07 637.86,324.18 638.09,309.34 638.33,299.56 638.56,315.18 638.8,321.59 639.03,334.98 639.27,334.22 639.5,317.1 639.73,320.86 639.97,318.02 640.2,332.01 640.44,316.71 640.67,337.27 640.91,331.22 641.14,325.37 641.37,302.62 641.61,322 641.84,326.27 642.08,305.05 642.31,311.68 642.55,295.34 642.78,304.1 643.01,305.39 643.25,312.04 643.48,298.73 643.72,320.2 643.95,327.97 644.19,292.29 644.42,312.06 644.65,303.11 644.89,277.09 645.12,286.49 645.36,334.55 645.59,319.98 645.82,284.29 646.06,326 646.29,293.29 646.53,305.03 646.76,312.74 647,291.61 647.23,324.34 647.46,262.5 647.7,279.83 647.93,323.06 648.17,313.11 648.4,283.6 648.64,296.85 648.87,307.75 649.1,280.46 649.34,328.16 649.57,308.31 649.81,302.69 650.04,307.98 650.28,290.05 650.51,328.92 650.74,301.95 650.98,315.97 651.21,285.32 651.45,289.76 651.68,318.19 651.92,324.19 652.15,308.5 652.38,321.92 652.62,316.21 652.85,301.48 653.09,313.66 653.32,277.75 653.56,305.85 653.79,315.12 654.02,326.78 654.26,318.57 654.49,292.31 654.73,301.44 654.96,286.72 655.2,289.61 655.43,302.56 655.66,322.07 655.9,313.18 656.13,209.2 656.37,335.91 656.6,305.41 656.84,326 657.07,311.28 657.3,317.78 657.54,299.88 657.77,267.58 658.01,326.67 658.24,308.38 658.47,275.93 658.71,321.07 658.94,308.61 659.18,306.08 659.41,301.01 659.65,331.73 659.88,300.31 660.11,296.8 660.35,266.42 660.58,306.83 660.82,312.96 661.05,302.71 661.29,339.83 661.52,298.37 661.75,279.09 661.99,231.69 662.22,306.18 662.46,309.4 662.69,304.16 662.93,326.29 663.16,282.36 663.39,311.96 663.63,312.68 663.86,278.79 664.1,305.65 664.33,312.15 664.57,280 664.8,304.26" fill="none" stroke="#555555" stroke-width="0.45"/>
<rect x="453.7" y="200.4" width="211.6" height="161.6" fill="none" stroke="#7a7a7a" stroke-width="1"/>
<line x1="453.7" y1="361.3" x2="456.5" y2="361.3" stroke="#7a7a7a" stroke-width="1"/>
<text x="448.6" y="366.3" font-size="14" text-anchor="end" font-weight="normal" fill="#231f20" >0</text>
<line x1="453.7" y1="335.3" x2="456.5" y2="335.3" stroke="#7a7a7a" stroke-width="1"/>
<text x="448.6" y="340.3" font-size="14" text-anchor="end" font-weight="normal" fill="#231f20" >20</text>
<line x1="453.7" y1="309.3" x2="456.5" y2="309.3" stroke="#7a7a7a" stroke-width="1"/>
<text x="448.6" y="314.3" font-size="14" text-anchor="end" font-weight="normal" fill="#231f20" >40</text>
<line x1="453.7" y1="283.3" x2="456.5" y2="283.3" stroke="#7a7a7a" stroke-width="1"/>
<text x="448.6" y="288.3" font-size="14" text-anchor="end" font-weight="normal" fill="#231f20" >60</text>
<line x1="453.7" y1="257.3" x2="456.5" y2="257.3" stroke="#7a7a7a" stroke-width="1"/>
<text x="448.6" y="262.3" font-size="14" text-anchor="end" font-weight="normal" fill="#231f20" >80</text>
<line x1="453.7" y1="231.3" x2="456.5" y2="231.3" stroke="#7a7a7a" stroke-width="1"/>
<text x="448.6" y="236.3" font-size="14" text-anchor="end" font-weight="normal" fill="#231f20" >100</text>
<line x1="453.7" y1="205.3" x2="456.5" y2="205.3" stroke="#7a7a7a" stroke-width="1"/>
<text x="448.6" y="210.3" font-size="14" text-anchor="end" font-weight="normal" fill="#231f20" >120</text>
<line x1="466.8" y1="362" x2="466.8" y2="358" stroke="#7a7a7a" stroke-width="1"/>
<text x="466.6" y="376" font-size="14" text-anchor="middle" font-weight="normal" fill="#231f20" >0</text>
<line x1="564.5" y1="362" x2="564.5" y2="358" stroke="#7a7a7a" stroke-width="1"/>
<text x="566" y="376" font-size="14" text-anchor="middle" font-weight="normal" fill="#231f20" >0.5</text>
<line x1="662.2" y1="362" x2="662.2" y2="358" stroke="#7a7a7a" stroke-width="1"/>
<text x="664" y="376" font-size="14" text-anchor="middle" font-weight="normal" fill="#231f20" >1</text>
<text x="567.4" y="391.8" font-size="14.6" text-anchor="middle" font-weight="normal" fill="#231f20" >Time (s)</text>
<text x="0" y="0" font-size="14.3" text-anchor="middle" font-weight="normal" fill="#231f20" transform="translate(418.8 278) rotate(-90)">Intensity (counts per ms)</text>
<text x="-0.6" y="420" font-size="18" text-anchor="start" font-weight="bold" fill="#000" >c</text>
<defs><clipPath id="cc"><rect x="61" y="420" width="264" height="217.5"/></clipPath><clipPath id="cd"><rect x="429" y="429" width="235.8" height="207.8"/></clipPath></defs>
<g clip-path="url(#cc)">
<path d="M61 462.63 L62.89 474.24 L64.78 468.82 L66.67 471.81 L68.56 472.35 L70.45 472.57 L72.34 476.8 L74.23 473.93 L76.12 475.82 L78.01 468.83 L79.9 475.44 L81.79 477.49 L83.68 478.51 L85.57 480.43 L87.46 482.42 L89.35 482.8 L91.24 483 L93.13 485.73 L95.02 485.64 L96.91 489.04 L98.8 490.46 L100.69 490.18 L102.58 493.38 L104.47 496.66 L106.36 498.26 L108.25 499.48 L110.14 500.03 L112.03 504.62 L113.92 506.74 L115.81 507.71 L117.7 511.82 L119.59 513.53 L121.48 514.79 L123.37 517.35 L125.26 519.98 L127.15 521.75 L129.04 526.41 L130.93 525.99 L132.82 529.57 L134.71 532.39 L136.6 533.94 L138.49 536.65 L140.38 540.23 L142.27 543.54 L144.16 546.1 L146.05 548.97 L147.94 551.15 L149.83 553.75 L151.72 556.22 L153.61 558.39 L155.5 561.25 L158.02 564.94 L160.54 568.16 L163.06 571.74 L165.58 575.43 L168.1 578.9 L170.62 581.89 L173.14 585.75 L175.66 588.05 L178.18 591.06 L180.7 594.37 L183.22 596.54 L185.74 599.29 L188.26 601.25 L190.78 604.19 L193.3 605.99 L195.82 607.47 L198.34 609.11 L200.86 611.56 L203.38 612.67 L205.9 613.88 L208.42 615.4 L210.94 616.05 L213.46 617.86 L215.98 618.54 L218.5 619.86 L221.02 620.11 L223.54 621.21 L226.06 621.98 L228.58 622.97 L231.1 622.75 L233.62 623.57 L236.14 624.13 L238.66 624.55 L241.18 625.22 L243.7 625.9 L246.22 626.33 L248.74 626.67 L251.26 626.42 L253.78 627.38 L256.3 627.41 L258.82 627.57 L261.34 627.65 L263.86 627.76 L266.38 628.39 L268.9 628.68 L271.42 628.4 L273.94 628.22 L276.46 628.44 L278.98 628.66 L281.5 628.87 L284.02 628.8 L286.54 629.01 L289.06 628.82 L291.58 629.28 L294.1 629.12 L296.62 629.25 L299.14 629.15 L301.66 629.28 L304.18 628.76 L306.7 629.07 L309.22 629.12 L311.74 630.04 L314.26 629.65 L316.78 629.75 L319.3 629.5 L321.82 630.22 L324.34 629.38 L326.86 629.42" fill="none" stroke="#7568ae" stroke-width="1.45"/>
<path d="M61 468.63 L62.89 469.04 L64.78 466.15 L66.67 469.24 L68.56 474.79 L70.45 472.14 L72.34 474.04 L74.23 473.2 L76.12 477.23 L78.01 474.52 L79.9 475.42 L81.79 474.09 L83.68 477.48 L85.57 478.45 L87.46 483.14 L89.35 478.6 L91.24 486.71 L93.13 483.71 L95.02 487.53 L96.91 490.01 L98.8 491.4 L100.69 493.14 L102.58 493.59 L104.47 496.16 L106.36 496.24 L108.25 502.24 L110.14 502.21 L112.03 505.29 L113.92 505.68 L115.81 510.82 L117.7 511.31 L119.59 513.07 L121.48 516.85 L123.37 517.01 L125.26 519.92 L127.15 521.5 L129.04 523.76 L130.93 527.31 L132.82 529.47 L134.71 531.55 L136.6 533.69 L138.49 536.57 L140.38 540.34 L142.27 543.35 L144.16 546.4 L146.05 549.14 L147.94 551.6 L149.83 553.96 L151.72 555.76 L153.61 558.79 L155.5 561.27 L158.02 564.6 L160.54 568.54 L163.06 571.98 L165.58 575.38 L168.1 578.52 L170.62 582.27 L173.14 584.79 L175.66 588.31 L178.18 591.14 L180.7 593.75 L183.22 596.39 L185.74 598.79 L188.26 601.39 L190.78 603.69 L193.3 605.68 L195.82 607.9 L198.34 609.09 L200.86 611.22 L203.38 612.86 L205.9 613.45 L208.42 615.28 L210.94 616.73 L213.46 617.11 L215.98 618.71 L218.5 619.33 L221.02 620.67 L223.54 621.27 L226.06 622.3 L228.58 623.01 L231.1 623.41 L233.62 623.77 L236.14 624.11 L238.66 624.23 L241.18 625.56 L243.7 625.49 L246.22 626.28 L248.74 626.51 L251.26 627.12 L253.78 627.38 L256.3 627.45 L258.82 627.78 L261.34 627.7 L263.86 628.08 L266.38 627.77 L268.9 628.21 L271.42 628.35 L273.94 628.24 L276.46 628.5 L278.98 628.73 L281.5 628.82 L284.02 628.9 L286.54 628.68 L289.06 628.82 L291.58 629 L294.1 628.96 L296.62 629.35 L299.14 629.15 L301.66 629.69 L304.18 629.06 L306.7 629.42 L309.22 629.44 L311.74 629.38 L314.26 629.57 L316.78 629.67 L319.3 629.34 L321.82 629.63 L324.34 629.9 L326.86 629.58" fill="none" stroke="#7ac2b2" stroke-width="1.45"/>
<path d="M61 466.75 L62.89 463.57 L64.78 467.97 L66.67 462.37 L68.56 461.63 L70.45 466.02 L72.34 464.84 L74.23 466.25 L76.12 468.74 L78.01 470.81 L79.9 474.26 L81.79 468.22 L83.68 472.13 L85.57 468.21 L87.46 472.52 L89.35 474.63 L91.24 477.41 L93.13 475.04 L95.02 479.52 L96.91 477.46 L98.8 482.04 L100.69 482.65 L102.58 486.98 L104.47 483.47 L106.36 489.11 L108.25 491.72 L110.14 492.35 L112.03 496.47 L113.92 496.34 L115.81 500.35 L117.7 500.22 L119.59 503.64 L121.48 506.18 L123.37 506.83 L125.26 509.53 L127.15 509.81 L129.04 512.32 L130.93 514.07 L132.82 516.53 L134.71 519 L136.6 521 L138.49 522.75 L140.38 525.73 L142.27 528.35 L144.16 530.8 L146.05 532.93 L147.94 535.51 L149.83 537.29 L151.72 540.54 L153.61 543.03 L155.5 545.4 L158.02 548.65 L160.54 552.49 L163.06 556.41 L165.58 560.19 L168.1 563.9 L170.62 567.35 L173.14 571.73 L175.66 575.48 L178.18 579.42 L180.7 582.66 L183.22 585.64 L185.74 588.84 L188.26 590.43 L190.78 593.38 L193.3 595.85 L195.82 598.19 L198.34 600.25 L200.86 602.33 L203.38 604.26 L205.9 606.35 L208.42 608.03 L210.94 610.21 L213.46 611.58 L215.98 613.15 L218.5 614.25 L221.02 615.42 L223.54 616.99 L226.06 617.68 L228.58 618.43 L231.1 619.33 L233.62 620.73 L236.14 621.16 L238.66 622.01 L241.18 622.93 L243.7 622.99 L246.22 624.33 L248.74 624.62 L251.26 624.84 L253.78 625.24 L256.3 625.66 L258.82 625.58 L261.34 625.83 L263.86 626.21 L266.38 626.42 L268.9 626.89 L271.42 627.36 L273.94 626.71 L276.46 627.65 L278.98 627.02 L281.5 627.75 L284.02 627.81 L286.54 628.05 L289.06 627.92 L291.58 628.42 L294.1 627.98 L296.62 628.44 L299.14 628.66 L301.66 628.96 L304.18 628.87 L306.7 629.05 L309.22 628.69 L311.74 629.02 L314.26 629.73 L316.78 629.05 L319.3 630.09 L321.82 629.18 L324.34 630.08 L326.86 629.65" fill="none" stroke="#f8a668" stroke-width="1.4"/>
</g>
<path d="M60.8 426 L60.8 637.8 L324.5 637.8" fill="none" stroke="#7a7a7a" stroke-width="1"/>
<line x1="60.8" y1="629.7" x2="64.3" y2="629.7" stroke="#7a7a7a" stroke-width="1"/>
<text x="55.7" y="635" font-size="14" text-anchor="end" font-weight="normal" fill="#231f20" >0</text>
<line x1="60.8" y1="596.7" x2="64.3" y2="596.7" stroke="#7a7a7a" stroke-width="1"/>
<text x="55.7" y="602" font-size="14" text-anchor="end" font-weight="normal" fill="#231f20" >0.2</text>
<line x1="60.8" y1="563.7" x2="64.3" y2="563.7" stroke="#7a7a7a" stroke-width="1"/>
<text x="55.7" y="569" font-size="14" text-anchor="end" font-weight="normal" fill="#231f20" >0.4</text>
<line x1="60.8" y1="530.7" x2="64.3" y2="530.7" stroke="#7a7a7a" stroke-width="1"/>
<text x="55.7" y="536" font-size="14" text-anchor="end" font-weight="normal" fill="#231f20" >0.6</text>
<line x1="60.8" y1="497.7" x2="64.3" y2="497.7" stroke="#7a7a7a" stroke-width="1"/>
<text x="55.7" y="503" font-size="14" text-anchor="end" font-weight="normal" fill="#231f20" >0.8</text>
<line x1="60.8" y1="464.7" x2="64.3" y2="464.7" stroke="#7a7a7a" stroke-width="1"/>
<text x="54.6" y="470" font-size="14" text-anchor="end" font-weight="normal" fill="#231f20" >1</text>
<line x1="60.8" y1="431.7" x2="64.3" y2="431.7" stroke="#7a7a7a" stroke-width="1"/>
<text x="58.1" y="437" font-size="14" text-anchor="end" font-weight="normal" fill="#231f20" >1.2</text>
<line x1="61" y1="637.8" x2="61" y2="634.3" stroke="#7a7a7a" stroke-width="1"/>
<text x="61" y="654.6" font-size="14" text-anchor="middle" font-weight="normal" fill="#231f20" >0.01</text>
<line x1="124" y1="637.8" x2="124" y2="634.3" stroke="#7a7a7a" stroke-width="1"/>
<text x="124" y="654.6" font-size="14" text-anchor="middle" font-weight="normal" fill="#231f20" >0.1</text>
<line x1="187" y1="637.8" x2="187" y2="634.3" stroke="#7a7a7a" stroke-width="1"/>
<text x="187" y="654.6" font-size="14" text-anchor="middle" font-weight="normal" fill="#231f20" >1</text>
<line x1="250" y1="637.8" x2="250" y2="634.3" stroke="#7a7a7a" stroke-width="1"/>
<text x="250" y="654.6" font-size="14" text-anchor="middle" font-weight="normal" fill="#231f20" >10</text>
<line x1="313" y1="637.8" x2="313" y2="634.3" stroke="#7a7a7a" stroke-width="1"/>
<text x="313" y="654.6" font-size="14" text-anchor="middle" font-weight="normal" fill="#231f20" >100</text>
<text x="181.5" y="677.2" font-size="14.5" text-anchor="middle" font-weight="normal" fill="#231f20" >Lag time τ (ms)</text>
<text transform="translate(23.7 535.5) rotate(-90)" font-size="15" font-style="italic" letter-spacing="-0.35" text-anchor="middle" fill="#231f20">G(τ)/G<tspan font-size="9.5" font-style="normal" dy="3.2">0</tspan></text>
<text x="290.8" y="429.3" font-size="14.6" text-anchor="start" font-weight="normal" fill="#231f20" >[Rubisco]</text>
<line x1="278.6" y1="445.4" x2="317.1" y2="445.4" stroke="#7568ae" stroke-width="2.4"/>
<text x="329.8" y="450.4" font-size="14" text-anchor="start" font-weight="normal" fill="#231f20" >0</text>
<line x1="278.6" y1="472.1" x2="317.1" y2="472.1" stroke="#7ac2b2" stroke-width="2.4"/>
<text x="329.8" y="477.1" font-size="14" text-anchor="start" font-weight="normal" fill="#231f20" >1 nM</text>
<line x1="278.6" y1="498.9" x2="317.1" y2="498.9" stroke="#f8a668" stroke-width="2.4"/>
<text x="329.8" y="503.9" font-size="14" text-anchor="start" font-weight="normal" fill="#231f20" >50 nM</text>
<line x1="146.7" y1="551.1" x2="152.8" y2="551.1" stroke="#b0b0b0" stroke-width="1.1"/>
<line x1="158.7" y1="551.1" x2="164.8" y2="551.1" stroke="#b0b0b0" stroke-width="1.1"/>
<line x1="171" y1="551.1" x2="176.8" y2="551.1" stroke="#b0b0b0" stroke-width="1.1"/>
<line x1="143.8" y1="568.2" x2="150" y2="568.2" stroke="#b0b0b0" stroke-width="1.1"/>
<line x1="156" y1="568.2" x2="162.5" y2="568.2" stroke="#b0b0b0" stroke-width="1.1"/>
<line x1="168.3" y1="568.2" x2="174.5" y2="568.2" stroke="#b0b0b0" stroke-width="1.1"/>
<line x1="144.1" y1="554.8" x2="144.1" y2="560.6" stroke="#b0b0b0" stroke-width="1.1"/>
<line x1="176.2" y1="558" x2="176.2" y2="563.8" stroke="#b0b0b0" stroke-width="1.1"/>
<line x1="144.1" y1="567.5" x2="144.1" y2="568.6" stroke="#b0b0b0" stroke-width="1.1"/>
<line x1="131.9" y1="600.1" x2="164.1" y2="583.4" stroke="#c6c6c6" stroke-width="1.15"/>
<line x1="194.5" y1="586.9" x2="219.5" y2="582.6" stroke="#c6c6c6" stroke-width="1.15"/>
<path d="M71.5 617.8C72.33 617.05 73.18 615.13 76.5 613.3C79.82 611.47 86.33 606.83 91.4 606.8C96.47 606.77 101.55 611.48 106.9 613.1C112.25 614.72 118.33 616.9 123.5 616.5C128.67 616.1 133.08 612.67 137.9 610.7C142.72 608.73 149.98 605.7 152.4 604.7" fill="none" stroke="#ee3e36" stroke-width="0.85"/><circle cx="76.5" cy="613.3" r="3.4" fill="#ee3e36"/><circle cx="91.4" cy="606.8" r="3.4" fill="#ee3e36"/><circle cx="106.9" cy="613.1" r="3.4" fill="#ee3e36"/><circle cx="123.5" cy="616.5" r="3.4" fill="#ee3e36"/><circle cx="137.9" cy="610.7" r="3.4" fill="#ee3e36"/><polygon points="152.4,598.7 154.16,602.27 158.11,602.85 155.25,605.63 155.93,609.55 152.4,607.7 148.87,609.55 149.55,605.63 146.69,602.85 150.64,602.27" fill="#3db54c"/>
<path d="M268.27 555.73A20 20 0 0 1 273.48 557.89A6.28 6.28 0 0 0 280.51 564.92A20 20 0 0 1 282.67 570.13A6.28 6.28 0 0 0 282.67 580.07A20 20 0 0 1 280.51 585.28A6.28 6.28 0 0 0 273.48 592.31A20 20 0 0 1 268.27 594.47A6.28 6.28 0 0 0 258.33 594.47A20 20 0 0 1 253.12 592.31A6.28 6.28 0 0 0 246.09 585.28A20 20 0 0 1 243.93 580.07A6.28 6.28 0 0 0 243.93 570.13A20 20 0 0 1 246.09 564.92A6.28 6.28 0 0 0 253.12 557.89A20 20 0 0 1 258.33 555.73A6.28 6.28 0 0 0 268.27 555.73Z" fill="#8abae4"/>
<path d="M262.86 550.1 L264.17 550.32 L265.44 550.6 L266.69 550.95 L267.91 551.36 L269.1 551.83 L270.25 552.37 L271.36 552.95 L272.43 553.59 L273.45 554.28 L274.43 555.02 L275.36 555.81 L276.23 556.63 L277.05 557.5 L277.82 558.39 L278.58 559.28 L279.38 560.11 L280.13 560.98 L280.84 561.88 L281.49 562.83 L282.1 563.8 L282.66 564.81 L283.16 565.84 L283.6 566.9 L283.99 567.97 L284.33 569.07 L284.6 570.18 L284.82 571.31 L284.97 572.44 L285.07 573.58 L285.11 574.72 L285.09 575.86 L285.1 577.01 L285.05 578.16 L284.95 579.31 L284.78 580.45 L284.55 581.6 L284.26 582.73 L283.91 583.85 L283.5 584.95 L283.03 586.03 L282.5 587.1 L281.91 588.13 L281.27 589.14 L280.57 590.12 L279.82 591.06 L278.97 591.91 L278.05 592.68 L277.09 593.4 L276.09 594.07 L275.07 594.68 L274.01 595.24 L272.93 595.75 L271.82 596.19 L270.7 596.58 L269.55 596.91 L268.4 597.17 L267.23 597.38 L266.05 597.52 L264.87 597.6 L263.69 597.62 L262.52 597.56 L261.35 597.42 L260.19 597.22 L259.05 596.96 L257.93 596.64 L256.83 596.26 L255.76 595.83 L254.71 595.34 L253.69 594.8 L252.71 594.21 L251.76 593.57 L250.85 592.88 L249.98 592.15 L249.15 591.38 L248.36 590.57 L247.43 589.9 L246.52 589.18 L245.64 588.41 L244.8 587.58 L244 586.7 L243.23 585.77 L242.52 584.79 L241.85 583.77 L241.23 582.7 L240.67 581.59 L240.16 580.44 L239.71 579.26 L239.32 578.04 L239 576.8 L238.74 575.53" fill="none" stroke="#fff" stroke-width="2.6"/><path d="M262.86 550.1 L264.17 550.32 L265.44 550.6 L266.69 550.95 L267.91 551.36 L269.1 551.83 L270.25 552.37 L271.36 552.95 L272.43 553.59 L273.45 554.28 L274.43 555.02 L275.36 555.81 L276.23 556.63 L277.05 557.5 L277.82 558.39 L278.58 559.28 L279.38 560.11 L280.13 560.98 L280.84 561.88 L281.49 562.83 L282.1 563.8 L282.66 564.81 L283.16 565.84 L283.6 566.9 L283.99 567.97 L284.33 569.07 L284.6 570.18 L284.82 571.31 L284.97 572.44 L285.07 573.58 L285.11 574.72 L285.09 575.86 L285.1 577.01 L285.05 578.16 L284.95 579.31 L284.78 580.45 L284.55 581.6 L284.26 582.73 L283.91 583.85 L283.5 584.95 L283.03 586.03 L282.5 587.1 L281.91 588.13 L281.27 589.14 L280.57 590.12 L279.82 591.06 L278.97 591.91 L278.05 592.68 L277.09 593.4 L276.09 594.07 L275.07 594.68 L274.01 595.24 L272.93 595.75 L271.82 596.19 L270.7 596.58 L269.55 596.91 L268.4 597.17 L267.23 597.38 L266.05 597.52 L264.87 597.6 L263.69 597.62 L262.52 597.56 L261.35 597.42 L260.19 597.22 L259.05 596.96 L257.93 596.64 L256.83 596.26 L255.76 595.83 L254.71 595.34 L253.69 594.8 L252.71 594.21 L251.76 593.57 L250.85 592.88 L249.98 592.15 L249.15 591.38 L248.36 590.57 L247.43 589.9 L246.52 589.18 L245.64 588.41 L244.8 587.58 L244 586.7 L243.23 585.77 L242.52 584.79 L241.85 583.77 L241.23 582.7 L240.67 581.59 L240.16 580.44 L239.71 579.26 L239.32 578.04 L239 576.8 L238.74 575.53" fill="none" stroke="#ee3e36" stroke-width="0.85"/><circle cx="278.3" cy="559.01" r="3.95" fill="#fff"/><circle cx="278.3" cy="559.01" r="3.15" fill="#ee3e36"/><circle cx="285.09" cy="575.86" r="3.95" fill="#fff"/><circle cx="285.09" cy="575.86" r="3.15" fill="#ee3e36"/><circle cx="279.56" cy="591.36" r="3.95" fill="#fff"/><circle cx="279.56" cy="591.36" r="3.15" fill="#ee3e36"/><circle cx="262.91" cy="597.6" r="3.95" fill="#fff"/><circle cx="262.91" cy="597.6" r="3.15" fill="#ee3e36"/><circle cx="248.36" cy="590.57" r="3.95" fill="#fff"/><circle cx="248.36" cy="590.57" r="3.15" fill="#ee3e36"/><polygon points="238.6,568.77 240.34,572.28 244.21,572.85 241.41,575.58 242.07,579.44 238.6,577.62 235.14,579.44 235.8,575.58 232.99,572.85 236.87,572.28" fill="#3db54c"/>
<text x="378.9" y="420" font-size="18" text-anchor="start" font-weight="bold" fill="#000" >d</text>
<g clip-path="url(#cd)">
<polyline points="453.5,424 455.7,429 477.4,480 509.7,559.7 545.5,640" fill="none" stroke="#7568ae" stroke-width="3.2" stroke-linejoin="round"/>
<polyline points="450.8,424 453,429 475.5,480 493.6,536 509.7,559.7 542.5,640" fill="none" stroke="#7ac2b2" stroke-width="3.2" stroke-linejoin="round"/>
<polyline points="550,424 552.2,429.2 574,480.8 605.6,564.6 622.6,593.8 641.5,640" fill="none" stroke="#f8a668" stroke-width="3.2" stroke-linejoin="round"/>
</g>
<rect x="428.9" y="429.1" width="235.9" height="207.7" fill="none" stroke="#7a7a7a" stroke-width="1"/>
<line x1="428.9" y1="487.4" x2="432.4" y2="487.4" stroke="#7a7a7a" stroke-width="1"/>
<text x="423.4" y="492.7" font-size="14" text-anchor="end" font-weight="normal" fill="#231f20" >0.45</text>
<line x1="428.9" y1="624.4" x2="432.4" y2="624.4" stroke="#7a7a7a" stroke-width="1"/>
<text x="422.6" y="629.7" font-size="14" text-anchor="end" font-weight="normal" fill="#231f20" >0.4</text>
<line x1="523.4" y1="636.8" x2="523.4" y2="633.3" stroke="#7a7a7a" stroke-width="1"/>
<text x="523.3" y="654.1" font-size="14" text-anchor="middle" font-weight="normal" fill="#231f20" >0.3</text>
<line x1="603.5" y1="636.8" x2="603.5" y2="633.3" stroke="#7a7a7a" stroke-width="1"/>
<text x="601.6" y="654.1" font-size="14" text-anchor="middle" font-weight="normal" fill="#231f20" >0.4</text>
<line x1="664.8" y1="636.8" x2="664.8" y2="633.3" stroke="#7a7a7a" stroke-width="1"/>
<text x="662.9" y="654.1" font-size="14" text-anchor="middle" font-weight="normal" fill="#231f20" >0.5</text>
<text x="557.4" y="677.2" font-size="14.5" text-anchor="middle" font-weight="normal" fill="#231f20" >Lag time τ (ms)</text>
<text transform="translate(390.2 534.4) rotate(-90)" font-size="15" font-style="italic" letter-spacing="-0.35" text-anchor="middle" fill="#231f20">G(τ)/G<tspan font-size="9.5" font-style="normal" dy="3.2">0</tspan></text>
<text x="-1" y="713.3" font-size="18" text-anchor="start" font-weight="bold" fill="#000" >e</text>
<line x1="132.2" y1="698" x2="132.2" y2="883.3" stroke="#7a7a7a" stroke-width="1"/>
<line x1="132.2" y1="883.3" x2="402.9" y2="883.3" stroke="#7a7a7a" stroke-width="1"/>
<line x1="415.9" y1="883.3" x2="462.5" y2="883.3" stroke="#7a7a7a" stroke-width="1"/>
<line x1="132.2" y1="883.1" x2="136" y2="883.1" stroke="#7a7a7a" stroke-width="1"/>
<text x="126.6" y="888.1" font-size="14" text-anchor="end" font-weight="normal" fill="#231f20" >30</text>
<line x1="132.2" y1="834.13" x2="136" y2="834.13" stroke="#7a7a7a" stroke-width="1"/>
<text x="126.6" y="839.13" font-size="14" text-anchor="end" font-weight="normal" fill="#231f20" >40</text>
<line x1="132.2" y1="785.16" x2="136" y2="785.16" stroke="#7a7a7a" stroke-width="1"/>
<text x="126.6" y="790.16" font-size="14" text-anchor="end" font-weight="normal" fill="#231f20" >50</text>
<line x1="132.2" y1="736.19" x2="136" y2="736.19" stroke="#7a7a7a" stroke-width="1"/>
<text x="126.6" y="741.19" font-size="14" text-anchor="end" font-weight="normal" fill="#231f20" >60</text>
<line x1="132.2" y1="883.3" x2="132.2" y2="879.5" stroke="#7a7a7a" stroke-width="1"/>
<text x="131.3" y="899.2" font-size="14" text-anchor="middle" font-weight="normal" fill="#231f20" >0</text>
<line x1="172.86" y1="883.3" x2="172.86" y2="879.5" stroke="#7a7a7a" stroke-width="1"/>
<text x="170.9" y="899.2" font-size="14" text-anchor="middle" font-weight="normal" fill="#231f20" >50</text>
<line x1="213.53" y1="883.3" x2="213.53" y2="879.5" stroke="#7a7a7a" stroke-width="1"/>
<text x="213.53" y="899.2" font-size="14" text-anchor="middle" font-weight="normal" fill="#231f20" >100</text>
<line x1="254.19" y1="883.3" x2="254.19" y2="879.5" stroke="#7a7a7a" stroke-width="1"/>
<text x="254.19" y="899.2" font-size="14" text-anchor="middle" font-weight="normal" fill="#231f20" >150</text>
<line x1="294.86" y1="883.3" x2="294.86" y2="879.5" stroke="#7a7a7a" stroke-width="1"/>
<text x="294.86" y="899.2" font-size="14" text-anchor="middle" font-weight="normal" fill="#231f20" >200</text>
<line x1="335.52" y1="883.3" x2="335.52" y2="879.5" stroke="#7a7a7a" stroke-width="1"/>
<text x="335.52" y="899.2" font-size="14" text-anchor="middle" font-weight="normal" fill="#231f20" >250</text>
<line x1="376.19" y1="883.3" x2="376.19" y2="879.5" stroke="#7a7a7a" stroke-width="1"/>
<text x="376.19" y="899.2" font-size="14" text-anchor="middle" font-weight="normal" fill="#231f20" >300</text>
<text x="262.5" y="923.2" font-size="14.8" text-anchor="middle" font-weight="normal" fill="#231f20" >[Rubisco] (nM)</text>
<text transform="translate(96 810.9) rotate(-90)" font-size="14" text-anchor="middle" fill="#231f20"><tspan font-style="italic">D</tspan> (<tspan font-style="italic">μ</tspan>m<tspan font-size="9.5" dy="-5">2</tspan><tspan dy="5" dx="0.6">s</tspan><tspan font-size="9.5" dy="-5">-1</tspan><tspan dy="5">)</tspan></text>
<line x1="149" y1="715" x2="433" y2="715" stroke="#c8c8c8" stroke-width="0.9" stroke-dasharray="3.5 3.5"/>
<line x1="132.2" y1="847" x2="433" y2="847" stroke="#c8c8c8" stroke-width="0.9" stroke-dasharray="3.5 3.5"/>
<path d="M132.2 726.36 L133.01 728.15 L133.83 730.23 L134.64 732.38 L135.45 734.53 L136.27 736.67 L137.08 738.76 L137.89 740.81 L138.71 742.8 L139.52 744.73 L140.33 746.61 L141.15 748.43 L141.96 750.19 L142.77 751.89 L143.59 753.53 L144.4 755.12 L145.21 756.66 L146.03 758.14 L146.84 759.57 L147.65 760.96 L148.47 762.3 L149.28 763.59 L150.09 764.84 L150.91 766.05 L151.72 767.22 L152.53 768.35 L153.35 769.45 L154.16 770.51 L154.97 771.54 L155.79 772.53 L156.6 773.5 L157.41 774.43 L158.23 775.34 L159.04 776.21 L159.85 777.07 L160.67 777.89 L161.48 778.7 L162.29 779.48 L163.11 780.23 L163.92 780.97 L164.73 781.68 L166.36 783.06 L167.99 784.36 L169.61 785.59 L171.24 786.75 L172.86 787.86 L174.49 788.92 L176.12 789.92 L177.74 790.87 L179.37 791.78 L181 792.65 L182.62 793.48 L184.25 794.28 L185.88 795.03 L187.5 795.76 L189.13 796.46 L190.76 797.13 L192.38 797.77 L194.01 798.38 L195.64 798.98 L197.26 799.55 L198.89 800.09 L200.52 800.62 L202.14 801.13 L203.77 801.62 L205.4 802.09 L207.02 802.55 L208.65 802.99 L210.28 803.41 L211.9 803.83 L213.53 804.22 L215.16 804.61 L216.78 804.98 L218.41 805.34 L220.04 805.69 L221.66 806.03 L223.29 806.36 L224.92 806.68 L226.54 806.99 L228.17 807.29 L229.8 807.59 L231.42 807.87 L233.05 808.15 L234.68 808.42 L236.3 808.68 L237.93 808.93 L239.56 809.18 L241.18 809.42 L242.81 809.66 L244.44 809.88 L246.06 810.11 L247.69 810.33 L249.32 810.54 L250.94 810.74 L252.57 810.95 L254.19 811.14 L255.82 811.34 L257.45 811.52 L259.07 811.71 L260.7 811.89 L262.33 812.06 L263.95 812.23 L265.58 812.4 L267.21 812.56 L268.83 812.72 L270.46 812.88 L272.09 813.03 L273.71 813.18 L275.34 813.33 L276.97 813.47 L278.59 813.62 L280.22 813.75 L281.85 813.89 L283.47 814.02 L285.1 814.15 L286.73 814.28 L288.35 814.4 L289.98 814.53 L291.61 814.65 L293.23 814.76 L294.86 814.88 L296.49 814.99 L298.11 815.1 L299.74 815.21 L301.37 815.32 L302.99 815.43 L304.62 815.53 L306.25 815.63 L307.87 815.73 L309.5 815.83 L311.13 815.93 L312.75 816.02 L314.38 816.11 L316.01 816.21 L317.63 816.3 L319.26 816.38 L320.89 816.47 L322.51 816.56 L324.14 816.64 L325.77 816.72 L327.39 816.81 L329.02 816.89 L330.65 816.96 L332.27 817.04 L333.9 817.12 L335.52 817.19 L337.15 817.27 L338.78 817.34 L340.4 817.41 L342.03 817.48 L343.66 817.55 L345.28 817.62 L346.91 817.69 L348.54 817.76 L350.16 817.82 L351.79 817.89 L353.42 817.95 L355.04 818.01 L356.67 818.08 L358.3 818.14 L359.92 818.2 L361.55 818.26 L363.18 818.32 L364.8 818.37 L366.43 818.43 L368.06 818.49 L369.68 818.54 L371.31 818.6 L372.94 818.65 L374.56 818.7 L376.19 818.76" fill="none" stroke="#e8262a" stroke-width="1.6"/>
<line x1="142" y1="711.7" x2="142" y2="749.2" stroke="#8a8a8a" stroke-width="0.9"/><line x1="139.8" y1="711.7" x2="144.2" y2="711.7" stroke="#8a8a8a" stroke-width="0.9"/><line x1="139.8" y1="749.2" x2="144.2" y2="749.2" stroke="#8a8a8a" stroke-width="0.9"/><line x1="132" y1="730.4" x2="142" y2="730.4" stroke="#8a8a8a" stroke-width="0.9"/><line x1="132" y1="728.2" x2="132" y2="732.6" stroke="#8a8a8a" stroke-width="0.9"/><circle cx="142" cy="730.4" r="2.4" fill="none" stroke="#8a8a8a" stroke-width="0.8"/><line x1="139.6" y1="730.4" x2="144.4" y2="730.4" stroke="#8a8a8a" stroke-width="0.6"/>
<line x1="136.8" y1="715.4" x2="136.8" y2="769.1" stroke="#8a8a8a" stroke-width="0.9"/><line x1="134.6" y1="715.4" x2="139" y2="715.4" stroke="#8a8a8a" stroke-width="0.9"/><line x1="134.6" y1="769.1" x2="139" y2="769.1" stroke="#8a8a8a" stroke-width="0.9"/><circle cx="136.8" cy="742.3" r="2.4" fill="none" stroke="#8a8a8a" stroke-width="0.8"/><line x1="134.4" y1="742.3" x2="139.2" y2="742.3" stroke="#8a8a8a" stroke-width="0.6"/>
<line x1="152.3" y1="807.4" x2="152.3" y2="814" stroke="#8a8a8a" stroke-width="0.9"/><line x1="150.1" y1="807.4" x2="154.5" y2="807.4" stroke="#8a8a8a" stroke-width="0.9"/><line x1="150.1" y1="814" x2="154.5" y2="814" stroke="#8a8a8a" stroke-width="0.9"/><line x1="136.7" y1="810.7" x2="152.3" y2="810.7" stroke="#8a8a8a" stroke-width="0.9"/><line x1="136.7" y1="808.5" x2="136.7" y2="812.9" stroke="#8a8a8a" stroke-width="0.9"/><circle cx="152.3" cy="810.7" r="2.4" fill="none" stroke="#8a8a8a" stroke-width="0.8"/><line x1="149.9" y1="810.7" x2="154.7" y2="810.7" stroke="#8a8a8a" stroke-width="0.6"/>
<line x1="147.2" y1="719.4" x2="147.2" y2="731.1" stroke="#3a3a3a" stroke-width="0.9"/><line x1="145" y1="719.4" x2="149.4" y2="719.4" stroke="#3a3a3a" stroke-width="0.9"/><line x1="145" y1="731.1" x2="149.4" y2="731.1" stroke="#3a3a3a" stroke-width="0.9"/><line x1="132.1" y1="725.5" x2="147.2" y2="725.5" stroke="#3a3a3a" stroke-width="0.9"/><line x1="132.1" y1="723.3" x2="132.1" y2="727.7" stroke="#3a3a3a" stroke-width="0.9"/><circle cx="147.2" cy="725.5" r="2.4" fill="none" stroke="#3a3a3a" stroke-width="0.8"/><line x1="144.8" y1="725.5" x2="149.6" y2="725.5" stroke="#3a3a3a" stroke-width="0.6"/>
<line x1="133" y1="716" x2="133" y2="759.4" stroke="#3a3a3a" stroke-width="0.9"/><line x1="130.8" y1="716" x2="135.2" y2="716" stroke="#3a3a3a" stroke-width="0.9"/><line x1="130.8" y1="759.4" x2="135.2" y2="759.4" stroke="#3a3a3a" stroke-width="0.9"/><circle cx="133" cy="737.3" r="2.4" fill="none" stroke="#3a3a3a" stroke-width="0.8"/><line x1="130.6" y1="737.3" x2="135.4" y2="737.3" stroke="#3a3a3a" stroke-width="0.6"/>
<circle cx="131.7" cy="741.9" r="2.4" fill="none" stroke="#3a3a3a" stroke-width="0.8"/><line x1="129.3" y1="741.9" x2="134.1" y2="741.9" stroke="#3a3a3a" stroke-width="0.6"/>
<line x1="149.4" y1="731.1" x2="149.4" y2="799.5" stroke="#3a3a3a" stroke-width="0.9"/><line x1="147.2" y1="731.1" x2="151.6" y2="731.1" stroke="#3a3a3a" stroke-width="0.9"/><line x1="147.2" y1="799.5" x2="151.6" y2="799.5" stroke="#3a3a3a" stroke-width="0.9"/><line x1="130.4" y1="765.5" x2="149.4" y2="765.5" stroke="#3a3a3a" stroke-width="0.9"/><line x1="130.4" y1="763.3" x2="130.4" y2="767.7" stroke="#3a3a3a" stroke-width="0.9"/><circle cx="149.4" cy="765.5" r="2.4" fill="none" stroke="#3a3a3a" stroke-width="0.8"/><line x1="147" y1="765.5" x2="151.8" y2="765.5" stroke="#3a3a3a" stroke-width="0.6"/>
<line x1="172.6" y1="787.1" x2="172.6" y2="821.3" stroke="#3a3a3a" stroke-width="0.9"/><line x1="170.4" y1="787.1" x2="174.8" y2="787.1" stroke="#3a3a3a" stroke-width="0.9"/><line x1="170.4" y1="821.3" x2="174.8" y2="821.3" stroke="#3a3a3a" stroke-width="0.9"/><line x1="157" y1="804.6" x2="172.6" y2="804.6" stroke="#3a3a3a" stroke-width="0.9"/><line x1="157" y1="802.4" x2="157" y2="806.8" stroke="#3a3a3a" stroke-width="0.9"/><circle cx="172.6" cy="804.6" r="2.4" fill="none" stroke="#3a3a3a" stroke-width="0.8"/><line x1="170.2" y1="804.6" x2="175" y2="804.6" stroke="#3a3a3a" stroke-width="0.6"/>
<line x1="233.5" y1="794.7" x2="233.5" y2="815.6" stroke="#3a3a3a" stroke-width="0.9"/><line x1="231.3" y1="794.7" x2="235.7" y2="794.7" stroke="#3a3a3a" stroke-width="0.9"/><line x1="231.3" y1="815.6" x2="235.7" y2="815.6" stroke="#3a3a3a" stroke-width="0.9"/><line x1="218.3" y1="805.2" x2="233.5" y2="805.2" stroke="#3a3a3a" stroke-width="0.9"/><line x1="218.3" y1="803" x2="218.3" y2="807.4" stroke="#3a3a3a" stroke-width="0.9"/><circle cx="233.5" cy="805.2" r="2.4" fill="none" stroke="#3a3a3a" stroke-width="0.8"/><line x1="231.1" y1="805.2" x2="235.9" y2="805.2" stroke="#3a3a3a" stroke-width="0.6"/>
<line x1="335.3" y1="805.5" x2="335.3" y2="830" stroke="#3a3a3a" stroke-width="0.9"/><line x1="333.1" y1="805.5" x2="337.5" y2="805.5" stroke="#3a3a3a" stroke-width="0.9"/><line x1="333.1" y1="830" x2="337.5" y2="830" stroke="#3a3a3a" stroke-width="0.9"/><line x1="320.6" y1="817.8" x2="335.3" y2="817.8" stroke="#3a3a3a" stroke-width="0.9"/><line x1="320.6" y1="815.6" x2="320.6" y2="820" stroke="#3a3a3a" stroke-width="0.9"/><circle cx="335.3" cy="817.8" r="2.4" fill="none" stroke="#3a3a3a" stroke-width="0.8"/><line x1="332.9" y1="817.8" x2="337.7" y2="817.8" stroke="#3a3a3a" stroke-width="0.6"/>
<line x1="437.6" y1="712.3" x2="437.6" y2="718.1" stroke="#3a3a3a" stroke-width="0.9"/><line x1="435.4" y1="712.3" x2="439.8" y2="712.3" stroke="#3a3a3a" stroke-width="0.9"/><line x1="435.4" y1="718.1" x2="439.8" y2="718.1" stroke="#3a3a3a" stroke-width="0.9"/><circle cx="437.6" cy="715" r="2.2" fill="none" stroke="#3a3a3a" stroke-width="0.8"/><line x1="435.4" y1="715" x2="439.8" y2="715" stroke="#3a3a3a" stroke-width="0.6"/>
<line x1="437.6" y1="843" x2="437.6" y2="851.1" stroke="#3a3a3a" stroke-width="0.9"/><line x1="435.4" y1="843" x2="439.8" y2="843" stroke="#3a3a3a" stroke-width="0.9"/><line x1="435.4" y1="851.1" x2="439.8" y2="851.1" stroke="#3a3a3a" stroke-width="0.9"/><circle cx="437.6" cy="847.1" r="2.2" fill="none" stroke="#3a3a3a" stroke-width="0.8"/><line x1="435.4" y1="847.1" x2="439.8" y2="847.1" stroke="#3a3a3a" stroke-width="0.6"/>
<text x="464.2" y="718.9" font-size="14.4" text-anchor="start" font-weight="normal" fill="#231f20" >EPYC1 only</text>
<text x="462.5" y="850.8" font-size="14.3" text-anchor="start" font-weight="normal" fill="#231f20" >Rubisco only</text></svg>
</body></html>
